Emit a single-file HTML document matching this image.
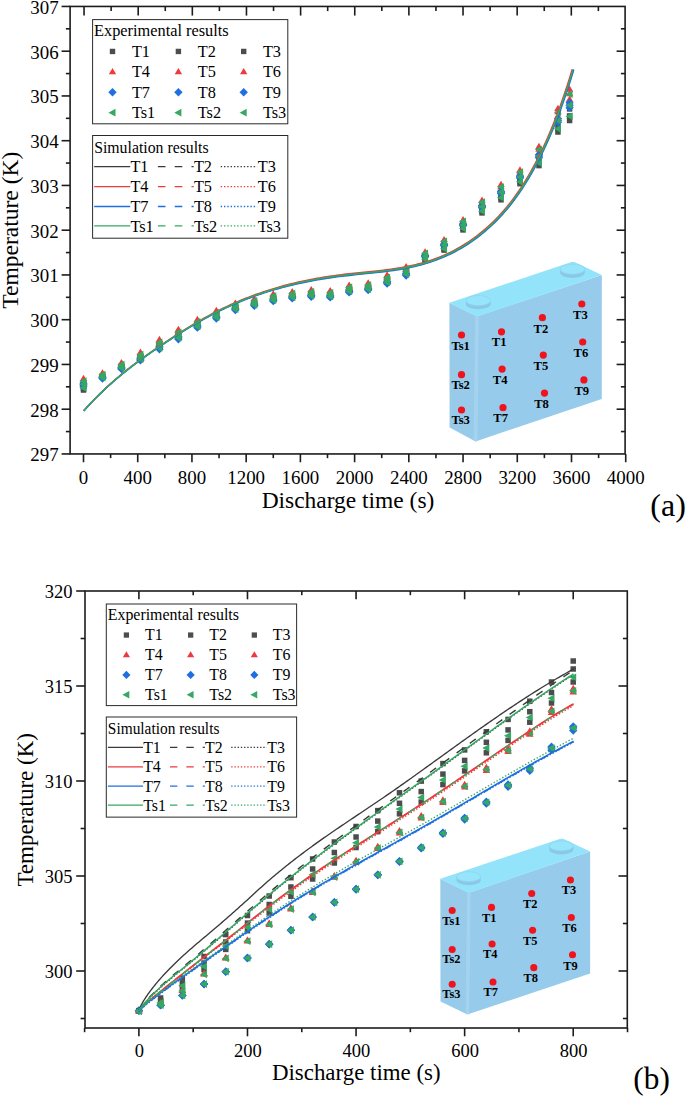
<!DOCTYPE html>
<html><head><meta charset="utf-8"><title>chart</title>
<style>html,body{margin:0;padding:0;background:#fff}svg{display:block}text{font-family:"Liberation Serif",serif}</style>
</head><body>
<svg width="685" height="1096" viewBox="0 0 685 1096">
<rect width="685" height="1096" fill="#fff"/>
<rect x="80.75" y="383.6" width="5.5" height="5.5" fill="#4d4d4d"/>
<rect x="99.73" y="372.83" width="5.5" height="5.5" fill="#4d4d4d"/>
<rect x="118.71" y="362.95" width="5.5" height="5.5" fill="#4d4d4d"/>
<rect x="137.68" y="353.47" width="5.5" height="5.5" fill="#4d4d4d"/>
<rect x="156.66" y="341.55" width="5.5" height="5.5" fill="#4d4d4d"/>
<rect x="175.64" y="331.44" width="5.5" height="5.5" fill="#4d4d4d"/>
<rect x="194.62" y="320.71" width="5.5" height="5.5" fill="#4d4d4d"/>
<rect x="213.59" y="311.67" width="5.5" height="5.5" fill="#4d4d4d"/>
<rect x="232.57" y="303.83" width="5.5" height="5.5" fill="#4d4d4d"/>
<rect x="251.55" y="299.48" width="5.5" height="5.5" fill="#4d4d4d"/>
<rect x="270.53" y="294.71" width="5.5" height="5.5" fill="#4d4d4d"/>
<rect x="289.5" y="292.14" width="5.5" height="5.5" fill="#4d4d4d"/>
<rect x="308.48" y="290.37" width="5.5" height="5.5" fill="#4d4d4d"/>
<rect x="327.46" y="291.24" width="5.5" height="5.5" fill="#4d4d4d"/>
<rect x="346.44" y="285.96" width="5.5" height="5.5" fill="#4d4d4d"/>
<rect x="365.42" y="283.67" width="5.5" height="5.5" fill="#4d4d4d"/>
<rect x="384.39" y="276.44" width="5.5" height="5.5" fill="#4d4d4d"/>
<rect x="403.37" y="268.24" width="5.5" height="5.5" fill="#4d4d4d"/>
<rect x="422.35" y="254.43" width="5.5" height="5.5" fill="#4d4d4d"/>
<rect x="441.33" y="243.44" width="5.5" height="5.5" fill="#4d4d4d"/>
<rect x="460.3" y="223.35" width="5.5" height="5.5" fill="#4d4d4d"/>
<rect x="479.28" y="205.4" width="5.5" height="5.5" fill="#4d4d4d"/>
<rect x="498.26" y="191.39" width="5.5" height="5.5" fill="#4d4d4d"/>
<rect x="517.24" y="175.86" width="5.5" height="5.5" fill="#4d4d4d"/>
<rect x="536.21" y="155.74" width="5.5" height="5.5" fill="#4d4d4d"/>
<rect x="555.19" y="120.51" width="5.5" height="5.5" fill="#4d4d4d"/>
<rect x="566.85" y="106.16" width="5.5" height="5.5" fill="#4d4d4d"/>
<rect x="80.75" y="385.7" width="5.5" height="5.5" fill="#4d4d4d"/>
<rect x="99.73" y="373.63" width="5.5" height="5.5" fill="#4d4d4d"/>
<rect x="118.71" y="363.85" width="5.5" height="5.5" fill="#4d4d4d"/>
<rect x="137.68" y="354.61" width="5.5" height="5.5" fill="#4d4d4d"/>
<rect x="156.66" y="342.91" width="5.5" height="5.5" fill="#4d4d4d"/>
<rect x="175.64" y="332.83" width="5.5" height="5.5" fill="#4d4d4d"/>
<rect x="194.62" y="321.87" width="5.5" height="5.5" fill="#4d4d4d"/>
<rect x="213.59" y="312.81" width="5.5" height="5.5" fill="#4d4d4d"/>
<rect x="232.57" y="304.79" width="5.5" height="5.5" fill="#4d4d4d"/>
<rect x="251.55" y="300.45" width="5.5" height="5.5" fill="#4d4d4d"/>
<rect x="270.53" y="295.73" width="5.5" height="5.5" fill="#4d4d4d"/>
<rect x="289.5" y="293.07" width="5.5" height="5.5" fill="#4d4d4d"/>
<rect x="308.48" y="291.37" width="5.5" height="5.5" fill="#4d4d4d"/>
<rect x="327.46" y="292.17" width="5.5" height="5.5" fill="#4d4d4d"/>
<rect x="346.44" y="286.97" width="5.5" height="5.5" fill="#4d4d4d"/>
<rect x="365.42" y="284.67" width="5.5" height="5.5" fill="#4d4d4d"/>
<rect x="384.39" y="277.67" width="5.5" height="5.5" fill="#4d4d4d"/>
<rect x="403.37" y="269.47" width="5.5" height="5.5" fill="#4d4d4d"/>
<rect x="422.35" y="256.32" width="5.5" height="5.5" fill="#4d4d4d"/>
<rect x="441.33" y="245.81" width="5.5" height="5.5" fill="#4d4d4d"/>
<rect x="460.3" y="225.65" width="5.5" height="5.5" fill="#4d4d4d"/>
<rect x="479.28" y="208.28" width="5.5" height="5.5" fill="#4d4d4d"/>
<rect x="498.26" y="194.81" width="5.5" height="5.5" fill="#4d4d4d"/>
<rect x="517.24" y="178.94" width="5.5" height="5.5" fill="#4d4d4d"/>
<rect x="536.21" y="160.04" width="5.5" height="5.5" fill="#4d4d4d"/>
<rect x="555.19" y="125.8" width="5.5" height="5.5" fill="#4d4d4d"/>
<rect x="566.85" y="113.17" width="5.5" height="5.5" fill="#4d4d4d"/>
<rect x="80.75" y="387.27" width="5.5" height="5.5" fill="#4d4d4d"/>
<rect x="99.73" y="374.27" width="5.5" height="5.5" fill="#4d4d4d"/>
<rect x="118.71" y="364.57" width="5.5" height="5.5" fill="#4d4d4d"/>
<rect x="137.68" y="355.52" width="5.5" height="5.5" fill="#4d4d4d"/>
<rect x="156.66" y="344" width="5.5" height="5.5" fill="#4d4d4d"/>
<rect x="175.64" y="333.95" width="5.5" height="5.5" fill="#4d4d4d"/>
<rect x="194.62" y="322.79" width="5.5" height="5.5" fill="#4d4d4d"/>
<rect x="213.59" y="313.72" width="5.5" height="5.5" fill="#4d4d4d"/>
<rect x="232.57" y="305.56" width="5.5" height="5.5" fill="#4d4d4d"/>
<rect x="251.55" y="301.23" width="5.5" height="5.5" fill="#4d4d4d"/>
<rect x="270.53" y="296.55" width="5.5" height="5.5" fill="#4d4d4d"/>
<rect x="289.5" y="293.81" width="5.5" height="5.5" fill="#4d4d4d"/>
<rect x="308.48" y="292.17" width="5.5" height="5.5" fill="#4d4d4d"/>
<rect x="327.46" y="292.91" width="5.5" height="5.5" fill="#4d4d4d"/>
<rect x="346.44" y="287.77" width="5.5" height="5.5" fill="#4d4d4d"/>
<rect x="365.42" y="285.47" width="5.5" height="5.5" fill="#4d4d4d"/>
<rect x="384.39" y="278.65" width="5.5" height="5.5" fill="#4d4d4d"/>
<rect x="403.37" y="270.45" width="5.5" height="5.5" fill="#4d4d4d"/>
<rect x="422.35" y="257.55" width="5.5" height="5.5" fill="#4d4d4d"/>
<rect x="441.33" y="247.35" width="5.5" height="5.5" fill="#4d4d4d"/>
<rect x="460.3" y="227.15" width="5.5" height="5.5" fill="#4d4d4d"/>
<rect x="479.28" y="210.15" width="5.5" height="5.5" fill="#4d4d4d"/>
<rect x="498.26" y="197.05" width="5.5" height="5.5" fill="#4d4d4d"/>
<rect x="517.24" y="180.95" width="5.5" height="5.5" fill="#4d4d4d"/>
<rect x="536.21" y="162.85" width="5.5" height="5.5" fill="#4d4d4d"/>
<rect x="555.19" y="129.25" width="5.5" height="5.5" fill="#4d4d4d"/>
<rect x="566.85" y="117.75" width="5.5" height="5.5" fill="#4d4d4d"/>
<path d="M83.5,374.87 L87.2,381.09 L79.8,381.09Z" fill="#ee3a3c"/>
<path d="M102.48,369.17 L106.18,375.39 L98.78,375.39Z" fill="#ee3a3c"/>
<path d="M121.46,358.91 L125.16,365.13 L117.76,365.13Z" fill="#ee3a3c"/>
<path d="M140.43,348.59 L144.13,354.8 L136.73,354.8Z" fill="#ee3a3c"/>
<path d="M159.41,335.87 L163.11,342.08 L155.71,342.08Z" fill="#ee3a3c"/>
<path d="M178.39,325.65 L182.09,331.87 L174.69,331.87Z" fill="#ee3a3c"/>
<path d="M197.37,315.78 L201.07,321.99 L193.67,321.99Z" fill="#ee3a3c"/>
<path d="M216.34,306.79 L220.04,313 L212.64,313Z" fill="#ee3a3c"/>
<path d="M235.32,299.58 L239.02,305.8 L231.62,305.8Z" fill="#ee3a3c"/>
<path d="M254.3,295.17 L258,301.39 L250.6,301.39Z" fill="#ee3a3c"/>
<path d="M273.28,290.25 L276.98,296.47 L269.58,296.47Z" fill="#ee3a3c"/>
<path d="M292.25,288 L295.95,294.21 L288.55,294.21Z" fill="#ee3a3c"/>
<path d="M311.23,285.96 L314.93,292.17 L307.53,292.17Z" fill="#ee3a3c"/>
<path d="M330.21,287.1 L333.91,293.31 L326.51,293.31Z" fill="#ee3a3c"/>
<path d="M349.19,281.56 L352.89,287.77 L345.49,287.77Z" fill="#ee3a3c"/>
<path d="M368.17,279.26 L371.87,285.47 L364.47,285.47Z" fill="#ee3a3c"/>
<path d="M387.14,271.24 L390.84,277.45 L383.44,277.45Z" fill="#ee3a3c"/>
<path d="M406.12,263.04 L409.82,269.25 L402.42,269.25Z" fill="#ee3a3c"/>
<path d="M425.1,248.25 L428.8,254.46 L421.4,254.46Z" fill="#ee3a3c"/>
<path d="M444.08,235.89 L447.78,242.1 L440.38,242.1Z" fill="#ee3a3c"/>
<path d="M463.05,215.99 L466.75,222.21 L459.35,222.21Z" fill="#ee3a3c"/>
<path d="M482.03,196.42 L485.73,202.64 L478.33,202.64Z" fill="#ee3a3c"/>
<path d="M501.01,180.85 L504.71,187.06 L497.31,187.06Z" fill="#ee3a3c"/>
<path d="M519.99,166.29 L523.69,172.51 L516.29,172.51Z" fill="#ee3a3c"/>
<path d="M538.96,142.73 L542.66,148.95 L535.26,148.95Z" fill="#ee3a3c"/>
<path d="M557.94,104.7 L561.64,110.92 L554.24,110.92Z" fill="#ee3a3c"/>
<path d="M569.6,85.48 L573.3,91.7 L565.9,91.7Z" fill="#ee3a3c"/>
<path d="M83.5,376.44 L87.2,382.66 L79.8,382.66Z" fill="#ee3a3c"/>
<path d="M102.48,370.02 L106.18,376.23 L98.78,376.23Z" fill="#ee3a3c"/>
<path d="M121.46,359.87 L125.16,366.09 L117.76,366.09Z" fill="#ee3a3c"/>
<path d="M140.43,349.8 L144.13,356.02 L136.73,356.02Z" fill="#ee3a3c"/>
<path d="M159.41,337.32 L163.11,343.54 L155.71,343.54Z" fill="#ee3a3c"/>
<path d="M178.39,327.14 L182.09,333.35 L174.69,333.35Z" fill="#ee3a3c"/>
<path d="M197.37,317.01 L201.07,323.23 L193.67,323.23Z" fill="#ee3a3c"/>
<path d="M216.34,308 L220.04,314.22 L212.64,314.22Z" fill="#ee3a3c"/>
<path d="M235.32,300.61 L239.02,306.82 L231.62,306.82Z" fill="#ee3a3c"/>
<path d="M254.3,296.21 L258,302.43 L250.6,302.43Z" fill="#ee3a3c"/>
<path d="M273.28,291.34 L276.98,297.55 L269.58,297.55Z" fill="#ee3a3c"/>
<path d="M292.25,288.99 L295.95,295.21 L288.55,295.21Z" fill="#ee3a3c"/>
<path d="M311.23,287.03 L314.93,293.25 L307.53,293.25Z" fill="#ee3a3c"/>
<path d="M330.21,288.09 L333.91,294.31 L326.51,294.31Z" fill="#ee3a3c"/>
<path d="M349.19,282.63 L352.89,288.85 L345.49,288.85Z" fill="#ee3a3c"/>
<path d="M368.17,280.33 L371.87,286.55 L364.47,286.55Z" fill="#ee3a3c"/>
<path d="M387.14,272.55 L390.84,278.77 L383.44,278.77Z" fill="#ee3a3c"/>
<path d="M406.12,264.35 L409.82,270.57 L402.42,270.57Z" fill="#ee3a3c"/>
<path d="M425.1,249.48 L428.8,255.69 L421.4,255.69Z" fill="#ee3a3c"/>
<path d="M444.08,237.43 L447.78,243.65 L440.38,243.65Z" fill="#ee3a3c"/>
<path d="M463.05,217.49 L466.75,223.71 L459.35,223.71Z" fill="#ee3a3c"/>
<path d="M482.03,198.29 L485.73,204.51 L478.33,204.51Z" fill="#ee3a3c"/>
<path d="M501.01,183.08 L504.71,189.3 L497.31,189.3Z" fill="#ee3a3c"/>
<path d="M519.99,168.3 L523.69,174.52 L516.29,174.52Z" fill="#ee3a3c"/>
<path d="M538.96,145.54 L542.66,151.75 L535.26,151.75Z" fill="#ee3a3c"/>
<path d="M557.94,108.15 L561.64,114.37 L554.24,114.37Z" fill="#ee3a3c"/>
<path d="M569.6,90.05 L573.3,96.27 L565.9,96.27Z" fill="#ee3a3c"/>
<path d="M83.5,378.54 L87.2,384.76 L79.8,384.76Z" fill="#ee3a3c"/>
<path d="M102.48,370.76 L106.18,376.98 L98.78,376.98Z" fill="#ee3a3c"/>
<path d="M121.46,360.71 L125.16,366.93 L117.76,366.93Z" fill="#ee3a3c"/>
<path d="M140.43,350.87 L144.13,357.08 L136.73,357.08Z" fill="#ee3a3c"/>
<path d="M159.41,338.6 L163.11,344.81 L155.71,344.81Z" fill="#ee3a3c"/>
<path d="M178.39,328.44 L182.09,334.66 L174.69,334.66Z" fill="#ee3a3c"/>
<path d="M197.37,318.09 L201.07,324.3 L193.67,324.3Z" fill="#ee3a3c"/>
<path d="M216.34,309.07 L220.04,315.28 L212.64,315.28Z" fill="#ee3a3c"/>
<path d="M235.32,301.5 L239.02,307.72 L231.62,307.72Z" fill="#ee3a3c"/>
<path d="M254.3,297.12 L258,303.34 L250.6,303.34Z" fill="#ee3a3c"/>
<path d="M273.28,292.29 L276.98,298.51 L269.58,298.51Z" fill="#ee3a3c"/>
<path d="M292.25,289.86 L295.95,296.07 L288.55,296.07Z" fill="#ee3a3c"/>
<path d="M311.23,287.97 L314.93,294.18 L307.53,294.18Z" fill="#ee3a3c"/>
<path d="M330.21,288.96 L333.91,295.17 L326.51,295.17Z" fill="#ee3a3c"/>
<path d="M349.19,283.57 L352.89,289.78 L345.49,289.78Z" fill="#ee3a3c"/>
<path d="M368.17,281.27 L371.87,287.48 L364.47,287.48Z" fill="#ee3a3c"/>
<path d="M387.14,273.7 L390.84,279.91 L383.44,279.91Z" fill="#ee3a3c"/>
<path d="M406.12,265.5 L409.82,271.71 L402.42,271.71Z" fill="#ee3a3c"/>
<path d="M425.1,250.95 L428.8,257.17 L421.4,257.17Z" fill="#ee3a3c"/>
<path d="M444.08,239.28 L447.78,245.5 L440.38,245.5Z" fill="#ee3a3c"/>
<path d="M463.05,219.29 L466.75,225.51 L459.35,225.51Z" fill="#ee3a3c"/>
<path d="M482.03,200.54 L485.73,206.76 L478.33,206.76Z" fill="#ee3a3c"/>
<path d="M501.01,185.76 L504.71,191.98 L497.31,191.98Z" fill="#ee3a3c"/>
<path d="M519.99,170.71 L523.69,176.93 L516.29,176.93Z" fill="#ee3a3c"/>
<path d="M538.96,148.9 L542.66,155.12 L535.26,155.12Z" fill="#ee3a3c"/>
<path d="M557.94,112.29 L561.64,118.51 L554.24,118.51Z" fill="#ee3a3c"/>
<path d="M569.6,95.54 L573.3,101.76 L565.9,101.76Z" fill="#ee3a3c"/>
<path d="M83.5,379.05 L87.65,383.2 L83.5,387.35 L79.35,383.2Z" fill="#1f6fe0"/>
<path d="M102.48,372.87 L106.63,377.02 L102.48,381.17 L98.33,377.02Z" fill="#1f6fe0"/>
<path d="M121.46,363.17 L125.61,367.32 L121.46,371.47 L117.31,367.32Z" fill="#1f6fe0"/>
<path d="M140.43,354.12 L144.58,358.27 L140.43,362.42 L136.28,358.27Z" fill="#1f6fe0"/>
<path d="M159.41,342.6 L163.56,346.75 L159.41,350.9 L155.26,346.75Z" fill="#1f6fe0"/>
<path d="M178.39,332.55 L182.54,336.7 L178.39,340.85 L174.24,336.7Z" fill="#1f6fe0"/>
<path d="M197.37,321.39 L201.52,325.54 L197.37,329.69 L193.22,325.54Z" fill="#1f6fe0"/>
<path d="M216.34,312.32 L220.49,316.47 L216.34,320.62 L212.19,316.47Z" fill="#1f6fe0"/>
<path d="M235.32,304.16 L239.47,308.31 L235.32,312.46 L231.17,308.31Z" fill="#1f6fe0"/>
<path d="M254.3,299.83 L258.45,303.98 L254.3,308.13 L250.15,303.98Z" fill="#1f6fe0"/>
<path d="M273.28,295.15 L277.43,299.3 L273.28,303.45 L269.13,299.3Z" fill="#1f6fe0"/>
<path d="M292.25,292.41 L296.4,296.56 L292.25,300.71 L288.1,296.56Z" fill="#1f6fe0"/>
<path d="M311.23,290.77 L315.38,294.92 L311.23,299.07 L307.08,294.92Z" fill="#1f6fe0"/>
<path d="M330.21,291.51 L334.36,295.66 L330.21,299.81 L326.06,295.66Z" fill="#1f6fe0"/>
<path d="M349.19,286.37 L353.34,290.52 L349.19,294.67 L345.04,290.52Z" fill="#1f6fe0"/>
<path d="M368.17,284.07 L372.32,288.22 L368.17,292.37 L364.02,288.22Z" fill="#1f6fe0"/>
<path d="M387.14,277.25 L391.29,281.4 L387.14,285.55 L382.99,281.4Z" fill="#1f6fe0"/>
<path d="M406.12,269.05 L410.27,273.2 L406.12,277.35 L401.97,273.2Z" fill="#1f6fe0"/>
<path d="M425.1,251.39 L429.25,255.54 L425.1,259.69 L420.95,255.54Z" fill="#1f6fe0"/>
<path d="M444.08,239.98 L448.23,244.13 L444.08,248.28 L439.93,244.13Z" fill="#1f6fe0"/>
<path d="M463.05,219.95 L467.2,224.1 L463.05,228.25 L458.9,224.1Z" fill="#1f6fe0"/>
<path d="M482.03,201.5 L486.18,205.65 L482.03,209.8 L477.88,205.65Z" fill="#1f6fe0"/>
<path d="M501.01,187.01 L505.16,191.16 L501.01,195.31 L496.86,191.16Z" fill="#1f6fe0"/>
<path d="M519.99,171.78 L524.14,175.93 L519.99,180.08 L515.84,175.93Z" fill="#1f6fe0"/>
<path d="M538.96,150.6 L543.11,154.75 L538.96,158.9 L534.81,154.75Z" fill="#1f6fe0"/>
<path d="M557.94,114.51 L562.09,118.66 L557.94,122.81 L553.79,118.66Z" fill="#1f6fe0"/>
<path d="M569.6,98.66 L573.75,102.81 L569.6,106.96 L565.45,102.81Z" fill="#1f6fe0"/>
<path d="M83.5,380.62 L87.65,384.77 L83.5,388.92 L79.35,384.77Z" fill="#1f6fe0"/>
<path d="M102.48,373.61 L106.63,377.76 L102.48,381.91 L98.33,377.76Z" fill="#1f6fe0"/>
<path d="M121.46,364.01 L125.61,368.16 L121.46,372.31 L117.31,368.16Z" fill="#1f6fe0"/>
<path d="M140.43,355.19 L144.58,359.34 L140.43,363.49 L136.28,359.34Z" fill="#1f6fe0"/>
<path d="M159.41,343.88 L163.56,348.03 L159.41,352.18 L155.26,348.03Z" fill="#1f6fe0"/>
<path d="M178.39,333.85 L182.54,338 L178.39,342.15 L174.24,338Z" fill="#1f6fe0"/>
<path d="M197.37,322.47 L201.52,326.62 L197.37,330.77 L193.22,326.62Z" fill="#1f6fe0"/>
<path d="M216.34,313.39 L220.49,317.54 L216.34,321.69 L212.19,317.54Z" fill="#1f6fe0"/>
<path d="M235.32,305.05 L239.47,309.2 L235.32,313.35 L231.17,309.2Z" fill="#1f6fe0"/>
<path d="M254.3,300.74 L258.45,304.89 L254.3,309.04 L250.15,304.89Z" fill="#1f6fe0"/>
<path d="M273.28,296.1 L277.43,300.25 L273.28,304.4 L269.13,300.25Z" fill="#1f6fe0"/>
<path d="M292.25,293.28 L296.4,297.43 L292.25,301.58 L288.1,297.43Z" fill="#1f6fe0"/>
<path d="M311.23,291.71 L315.38,295.86 L311.23,300.01 L307.08,295.86Z" fill="#1f6fe0"/>
<path d="M330.21,292.38 L334.36,296.53 L330.21,300.68 L326.06,296.53Z" fill="#1f6fe0"/>
<path d="M349.19,287.31 L353.34,291.46 L349.19,295.61 L345.04,291.46Z" fill="#1f6fe0"/>
<path d="M368.17,285.01 L372.32,289.16 L368.17,293.31 L364.02,289.16Z" fill="#1f6fe0"/>
<path d="M387.14,278.4 L391.29,282.55 L387.14,286.7 L382.99,282.55Z" fill="#1f6fe0"/>
<path d="M406.12,270.2 L410.27,274.35 L406.12,278.5 L401.97,274.35Z" fill="#1f6fe0"/>
<path d="M425.1,252.05 L429.25,256.2 L425.1,260.35 L420.95,256.2Z" fill="#1f6fe0"/>
<path d="M444.08,240.8 L448.23,244.95 L444.08,249.1 L439.93,244.95Z" fill="#1f6fe0"/>
<path d="M463.05,220.75 L467.2,224.9 L463.05,229.05 L458.9,224.9Z" fill="#1f6fe0"/>
<path d="M482.03,202.5 L486.18,206.65 L482.03,210.8 L477.88,206.65Z" fill="#1f6fe0"/>
<path d="M501.01,188.2 L505.16,192.35 L501.01,196.5 L496.86,192.35Z" fill="#1f6fe0"/>
<path d="M519.99,172.85 L524.14,177 L519.99,181.15 L515.84,177Z" fill="#1f6fe0"/>
<path d="M538.96,152.1 L543.11,156.25 L538.96,160.4 L534.81,156.25Z" fill="#1f6fe0"/>
<path d="M557.94,116.35 L562.09,120.5 L557.94,124.65 L553.79,120.5Z" fill="#1f6fe0"/>
<path d="M569.6,101.1 L573.75,105.25 L569.6,109.4 L565.45,105.25Z" fill="#1f6fe0"/>
<path d="M83.5,382.2 L87.65,386.35 L83.5,390.5 L79.35,386.35Z" fill="#1f6fe0"/>
<path d="M102.48,374.35 L106.63,378.5 L102.48,382.65 L98.33,378.5Z" fill="#1f6fe0"/>
<path d="M121.46,364.85 L125.61,369 L121.46,373.15 L117.31,369Z" fill="#1f6fe0"/>
<path d="M140.43,356.25 L144.58,360.4 L140.43,364.55 L136.28,360.4Z" fill="#1f6fe0"/>
<path d="M159.41,345.15 L163.56,349.3 L159.41,353.45 L155.26,349.3Z" fill="#1f6fe0"/>
<path d="M178.39,335.15 L182.54,339.3 L178.39,343.45 L174.24,339.3Z" fill="#1f6fe0"/>
<path d="M197.37,323.55 L201.52,327.7 L197.37,331.85 L193.22,327.7Z" fill="#1f6fe0"/>
<path d="M216.34,314.45 L220.49,318.6 L216.34,322.75 L212.19,318.6Z" fill="#1f6fe0"/>
<path d="M235.32,305.95 L239.47,310.1 L235.32,314.25 L231.17,310.1Z" fill="#1f6fe0"/>
<path d="M254.3,301.65 L258.45,305.8 L254.3,309.95 L250.15,305.8Z" fill="#1f6fe0"/>
<path d="M273.28,297.05 L277.43,301.2 L273.28,305.35 L269.13,301.2Z" fill="#1f6fe0"/>
<path d="M292.25,294.15 L296.4,298.3 L292.25,302.45 L288.1,298.3Z" fill="#1f6fe0"/>
<path d="M311.23,292.65 L315.38,296.8 L311.23,300.95 L307.08,296.8Z" fill="#1f6fe0"/>
<path d="M330.21,293.25 L334.36,297.4 L330.21,301.55 L326.06,297.4Z" fill="#1f6fe0"/>
<path d="M349.19,288.25 L353.34,292.4 L349.19,296.55 L345.04,292.4Z" fill="#1f6fe0"/>
<path d="M368.17,285.95 L372.32,290.1 L368.17,294.25 L364.02,290.1Z" fill="#1f6fe0"/>
<path d="M387.14,279.55 L391.29,283.7 L387.14,287.85 L382.99,283.7Z" fill="#1f6fe0"/>
<path d="M406.12,271.35 L410.27,275.5 L406.12,279.65 L401.97,275.5Z" fill="#1f6fe0"/>
<path d="M425.1,252.71 L429.25,256.86 L425.1,261.01 L420.95,256.86Z" fill="#1f6fe0"/>
<path d="M444.08,241.62 L448.23,245.77 L444.08,249.92 L439.93,245.77Z" fill="#1f6fe0"/>
<path d="M463.05,221.55 L467.2,225.7 L463.05,229.85 L458.9,225.7Z" fill="#1f6fe0"/>
<path d="M482.03,203.5 L486.18,207.65 L482.03,211.8 L477.88,207.65Z" fill="#1f6fe0"/>
<path d="M501.01,189.39 L505.16,193.54 L501.01,197.69 L496.86,193.54Z" fill="#1f6fe0"/>
<path d="M519.99,173.92 L524.14,178.07 L519.99,182.22 L515.84,178.07Z" fill="#1f6fe0"/>
<path d="M538.96,153.6 L543.11,157.75 L538.96,161.9 L534.81,157.75Z" fill="#1f6fe0"/>
<path d="M557.94,118.19 L562.09,122.34 L557.94,126.49 L553.79,122.34Z" fill="#1f6fe0"/>
<path d="M569.6,103.54 L573.75,107.69 L569.6,111.84 L565.45,107.69Z" fill="#1f6fe0"/>
<path d="M79.39,381.1 L86.48,377.25 L86.48,384.95Z" fill="#35a862"/>
<path d="M98.37,374.52 L105.45,370.67 L105.45,378.38Z" fill="#35a862"/>
<path d="M117.35,364.5 L124.43,360.65 L124.43,368.35Z" fill="#35a862"/>
<path d="M136.32,354.7 L143.41,350.85 L143.41,358.55Z" fill="#35a862"/>
<path d="M155.3,342.48 L162.39,338.62 L162.39,346.33Z" fill="#35a862"/>
<path d="M174.28,332.32 L181.36,328.47 L181.36,336.18Z" fill="#35a862"/>
<path d="M193.26,321.93 L200.34,318.07 L200.34,325.78Z" fill="#35a862"/>
<path d="M212.24,312.9 L219.32,309.05 L219.32,316.75Z" fill="#35a862"/>
<path d="M231.21,305.3 L238.3,301.45 L238.3,309.15Z" fill="#35a862"/>
<path d="M250.19,300.93 L257.27,297.07 L257.27,304.78Z" fill="#35a862"/>
<path d="M269.17,296.1 L276.25,292.25 L276.25,299.95Z" fill="#35a862"/>
<path d="M288.15,293.65 L295.23,289.8 L295.23,297.5Z" fill="#35a862"/>
<path d="M307.12,291.78 L314.21,287.93 L314.21,295.63Z" fill="#35a862"/>
<path d="M326.1,292.75 L333.19,288.9 L333.19,296.6Z" fill="#35a862"/>
<path d="M345.08,287.38 L352.16,283.52 L352.16,291.23Z" fill="#35a862"/>
<path d="M364.06,285.07 L371.14,281.22 L371.14,288.93Z" fill="#35a862"/>
<path d="M383.03,277.55 L390.12,273.7 L390.12,281.4Z" fill="#35a862"/>
<path d="M402.01,269.35 L409.1,265.5 L409.1,273.2Z" fill="#35a862"/>
<path d="M420.99,253.25 L428.07,249.4 L428.07,257.1Z" fill="#35a862"/>
<path d="M439.97,241.24 L447.05,237.39 L447.05,245.09Z" fill="#35a862"/>
<path d="M458.95,221.3 L466.03,217.45 L466.03,225.15Z" fill="#35a862"/>
<path d="M477.92,202.15 L485.01,198.3 L485.01,206Z" fill="#35a862"/>
<path d="M496.9,186.99 L503.98,183.14 L503.98,190.84Z" fill="#35a862"/>
<path d="M515.88,172.18 L522.96,168.33 L522.96,176.03Z" fill="#35a862"/>
<path d="M534.86,149.52 L541.94,145.67 L541.94,153.37Z" fill="#35a862"/>
<path d="M553.83,112.22 L560.92,108.37 L560.92,116.07Z" fill="#35a862"/>
<path d="M565.49,94.27 L572.58,90.42 L572.58,98.12Z" fill="#35a862"/>
<path d="M79.39,384.25 L86.48,380.4 L86.48,388.1Z" fill="#35a862"/>
<path d="M98.37,376.12 L105.45,372.26 L105.45,379.97Z" fill="#35a862"/>
<path d="M117.35,366.3 L124.43,362.45 L124.43,370.15Z" fill="#35a862"/>
<path d="M136.32,356.98 L143.41,353.13 L143.41,360.83Z" fill="#35a862"/>
<path d="M155.3,345.2 L162.39,341.35 L162.39,349.06Z" fill="#35a862"/>
<path d="M174.28,335.12 L181.36,331.26 L181.36,338.97Z" fill="#35a862"/>
<path d="M193.26,324.24 L200.34,320.38 L200.34,328.09Z" fill="#35a862"/>
<path d="M212.24,315.18 L219.32,311.33 L219.32,319.03Z" fill="#35a862"/>
<path d="M231.21,307.22 L238.3,303.37 L238.3,311.07Z" fill="#35a862"/>
<path d="M250.19,302.88 L257.27,299.02 L257.27,306.73Z" fill="#35a862"/>
<path d="M269.17,298.14 L276.25,294.29 L276.25,301.99Z" fill="#35a862"/>
<path d="M288.15,295.51 L295.23,291.66 L295.23,299.36Z" fill="#35a862"/>
<path d="M307.12,293.79 L314.21,289.94 L314.21,297.64Z" fill="#35a862"/>
<path d="M326.1,294.61 L333.19,290.76 L333.19,298.46Z" fill="#35a862"/>
<path d="M345.08,289.38 L352.16,285.53 L352.16,293.24Z" fill="#35a862"/>
<path d="M364.06,287.08 L371.14,283.23 L371.14,290.94Z" fill="#35a862"/>
<path d="M383.03,280.01 L390.12,276.16 L390.12,283.86Z" fill="#35a862"/>
<path d="M402.01,271.81 L409.1,267.96 L409.1,275.66Z" fill="#35a862"/>
<path d="M420.99,256.2 L428.07,252.35 L428.07,260.05Z" fill="#35a862"/>
<path d="M439.97,244.95 L447.05,241.1 L447.05,248.8Z" fill="#35a862"/>
<path d="M458.95,224.9 L466.03,221.05 L466.03,228.75Z" fill="#35a862"/>
<path d="M477.92,206.65 L485.01,202.8 L485.01,210.5Z" fill="#35a862"/>
<path d="M496.9,192.35 L503.98,188.5 L503.98,196.2Z" fill="#35a862"/>
<path d="M515.88,177 L522.96,173.15 L522.96,180.85Z" fill="#35a862"/>
<path d="M534.86,156.25 L541.94,152.4 L541.94,160.1Z" fill="#35a862"/>
<path d="M553.83,120.5 L560.92,116.65 L560.92,124.35Z" fill="#35a862"/>
<path d="M565.49,105.25 L572.58,101.4 L572.58,109.1Z" fill="#35a862"/>
<path d="M79.39,387.93 L86.48,384.07 L86.48,391.78Z" fill="#35a862"/>
<path d="M98.37,377.7 L105.45,373.85 L105.45,381.56Z" fill="#35a862"/>
<path d="M117.35,368.1 L124.43,364.25 L124.43,371.95Z" fill="#35a862"/>
<path d="M136.32,359.26 L143.41,355.41 L143.41,363.11Z" fill="#35a862"/>
<path d="M155.3,347.94 L162.39,344.08 L162.39,351.79Z" fill="#35a862"/>
<path d="M174.28,337.91 L181.36,334.06 L181.36,341.76Z" fill="#35a862"/>
<path d="M193.26,326.55 L200.34,322.69 L200.34,330.4Z" fill="#35a862"/>
<path d="M212.24,317.46 L219.32,313.61 L219.32,321.31Z" fill="#35a862"/>
<path d="M231.21,309.14 L238.3,305.29 L238.3,312.99Z" fill="#35a862"/>
<path d="M250.19,304.82 L257.27,300.97 L257.27,308.68Z" fill="#35a862"/>
<path d="M269.17,300.18 L276.25,296.33 L276.25,304.03Z" fill="#35a862"/>
<path d="M288.15,297.37 L295.23,293.52 L295.23,301.22Z" fill="#35a862"/>
<path d="M307.12,295.8 L314.21,291.94 L314.21,299.65Z" fill="#35a862"/>
<path d="M326.1,296.47 L333.19,292.62 L333.19,300.32Z" fill="#35a862"/>
<path d="M345.08,291.39 L352.16,287.54 L352.16,295.25Z" fill="#35a862"/>
<path d="M364.06,289.1 L371.14,285.25 L371.14,292.95Z" fill="#35a862"/>
<path d="M383.03,282.47 L390.12,278.62 L390.12,286.32Z" fill="#35a862"/>
<path d="M402.01,274.27 L409.1,270.42 L409.1,278.12Z" fill="#35a862"/>
<path d="M420.99,259.15 L428.07,255.3 L428.07,263Z" fill="#35a862"/>
<path d="M439.97,248.66 L447.05,244.81 L447.05,252.51Z" fill="#35a862"/>
<path d="M458.95,228.5 L466.03,224.65 L466.03,232.35Z" fill="#35a862"/>
<path d="M477.92,211.15 L485.01,207.3 L485.01,215Z" fill="#35a862"/>
<path d="M496.9,197.71 L503.98,193.86 L503.98,201.56Z" fill="#35a862"/>
<path d="M515.88,181.82 L522.96,177.97 L522.96,185.67Z" fill="#35a862"/>
<path d="M534.86,162.98 L541.94,159.13 L541.94,166.83Z" fill="#35a862"/>
<path d="M553.83,128.78 L560.92,124.93 L560.92,132.63Z" fill="#35a862"/>
<path d="M565.49,116.23 L572.58,112.38 L572.58,120.08Z" fill="#35a862"/>
<path d="M83.73,410.89 L86.19,408.16 L88.65,405.48 L91.11,402.86 L93.57,400.3 L96.03,397.79 L98.49,395.33 L100.95,392.93 L103.41,390.57 L105.87,388.26 L108.32,386 L110.78,383.78 L113.24,381.61 L115.7,379.47 L118.16,377.38 L120.62,375.32 L123.08,373.3 L125.54,371.32 L128,369.37 L130.46,367.45 L132.92,365.55 L135.38,363.69 L137.84,361.86 L140.3,360.04 L142.76,358.26 L145.22,356.49 L147.68,354.74 L150.14,353.02 L152.6,351.31 L155.06,349.61 L157.52,347.93 L159.98,346.26 L162.44,344.6 L164.9,342.95 L167.36,341.32 L169.82,339.69 L172.28,338.08 L174.74,336.49 L177.2,334.91 L179.66,333.35 L182.12,331.8 L184.58,330.27 L187.04,328.75 L189.5,327.26 L191.96,325.78 L194.41,324.32 L196.87,322.88 L199.33,321.47 L201.79,320.07 L204.25,318.7 L206.71,317.34 L209.17,316.01 L211.63,314.71 L214.09,313.43 L216.55,312.17 L219.01,310.94 L221.47,309.73 L223.93,308.55 L226.39,307.39 L228.84,306.26 L231.3,305.15 L233.76,304.07 L236.22,303 L238.68,301.97 L241.14,300.95 L243.6,299.96 L246.06,298.99 L248.51,298.04 L250.97,297.11 L253.43,296.21 L255.89,295.33 L258.35,294.46 L260.81,293.62 L263.27,292.8 L265.72,292 L268.18,291.22 L270.64,290.46 L273.1,289.72 L275.56,289 L278.01,288.29 L280.47,287.61 L282.93,286.94 L285.39,286.3 L287.85,285.67 L290.31,285.05 L292.76,284.46 L295.22,283.88 L297.68,283.32 L300.14,282.78 L302.59,282.25 L305.05,281.74 L307.51,281.24 L309.97,280.75 L312.42,280.28 L314.88,279.83 L317.34,279.39 L319.79,278.96 L322.25,278.55 L324.71,278.16 L327.17,277.77 L329.62,277.4 L332.08,277.05 L334.54,276.7 L337,276.37 L339.45,276.06 L341.91,275.75 L344.37,275.45 L346.82,275.17 L349.28,274.9 L351.74,274.63 L354.2,274.37 L356.66,274.12 L359.12,273.87 L361.57,273.62 L364.03,273.37 L366.49,273.12 L368.95,272.87 L371.41,272.62 L373.87,272.36 L376.33,272.09 L378.79,271.82 L381.25,271.53 L383.71,271.24 L386.17,270.93 L388.63,270.61 L391.09,270.27 L393.55,269.91 L396.01,269.54 L398.47,269.15 L400.94,268.73 L403.4,268.29 L405.86,267.83 L408.32,267.34 L410.78,266.82 L413.25,266.27 L415.71,265.69 L418.17,265.08 L420.63,264.44 L423.1,263.76 L425.56,263.04 L428.02,262.29 L430.48,261.5 L432.95,260.66 L435.41,259.79 L437.87,258.87 L440.34,257.9 L442.8,256.89 L445.26,255.82 L447.73,254.71 L450.19,253.55 L452.65,252.33 L455.12,251.06 L457.58,249.73 L460.04,248.34 L462.51,246.9 L464.97,245.4 L467.44,243.83 L469.9,242.2 L472.36,240.5 L474.82,238.74 L477.29,236.91 L479.75,235.01 L482.21,233.04 L484.68,231 L487.14,228.88 L489.6,226.68 L492.07,224.4 L494.53,222.02 L496.99,219.55 L499.45,216.99 L501.92,214.32 L504.38,211.54 L506.84,208.65 L509.31,205.64 L511.77,202.51 L514.23,199.26 L516.69,195.87 L519.15,192.35 L521.62,188.69 L524.08,184.89 L526.54,180.94 L529,176.84 L531.46,172.58 L533.92,168.16 L536.38,163.57 L538.84,158.81 L541.31,153.88 L543.77,148.76 L546.23,143.45 L548.69,137.94 L551.15,132.22 L553.61,126.28 L556.07,120.11 L558.53,113.69 L560.99,107.03 L563.45,100.11 L565.91,92.92 L568.37,85.45 L570.83,77.7 L573.29,69.65" fill="none" stroke="#3a3a3a" stroke-width="1.3"  stroke-linejoin="round" />
<path d="M83.61,410.78 L86.06,408.04 L88.52,405.36 L90.98,402.74 L93.44,400.17 L95.9,397.66 L98.35,395.2 L100.81,392.79 L103.27,390.43 L105.73,388.11 L108.18,385.85 L110.64,383.62 L113.1,381.44 L115.56,379.3 L118.01,377.2 L120.47,375.14 L122.93,373.11 L125.38,371.12 L127.84,369.16 L130.3,367.23 L132.75,365.34 L135.21,363.47 L137.67,361.62 L140.12,359.8 L142.58,358.01 L145.03,356.23 L147.49,354.48 L149.95,352.74 L152.4,351.02 L154.86,349.32 L157.31,347.63 L159.77,345.95 L162.22,344.28 L164.68,342.63 L167.14,340.98 L169.59,339.35 L172.05,337.73 L174.5,336.13 L176.96,334.54 L179.41,332.96 L181.87,331.41 L184.33,329.86 L186.78,328.34 L189.24,326.83 L191.69,325.34 L194.15,323.87 L196.61,322.42 L199.06,320.99 L201.52,319.59 L203.98,318.2 L206.43,316.83 L208.89,315.49 L211.35,314.17 L213.81,312.88 L216.26,311.61 L218.72,310.36 L221.18,309.14 L223.64,307.95 L226.1,306.78 L228.56,305.63 L231.01,304.5 L233.47,303.41 L235.93,302.33 L238.39,301.28 L240.85,300.24 L243.31,299.24 L245.77,298.25 L248.23,297.29 L250.69,296.35 L253.15,295.43 L255.61,294.53 L258.06,293.65 L260.52,292.79 L262.98,291.95 L265.44,291.14 L267.9,290.34 L270.37,289.56 L272.83,288.81 L275.29,288.07 L277.75,287.35 L280.21,286.65 L282.67,285.96 L285.13,285.3 L287.59,284.65 L290.05,284.02 L292.51,283.41 L294.97,282.82 L297.43,282.24 L299.9,281.68 L302.36,281.13 L304.82,280.61 L307.28,280.11 L309.75,279.62 L312.21,279.15 L314.67,278.7 L317.14,278.26 L319.6,277.83 L322.07,277.42 L324.53,277.02 L326.99,276.64 L329.46,276.27 L331.92,275.91 L334.38,275.57 L336.84,275.23 L339.31,274.91 L341.77,274.61 L344.23,274.31 L346.7,274.03 L349.16,273.75 L351.62,273.49 L354.08,273.23 L356.54,272.97 L359,272.72 L361.46,272.48 L363.92,272.23 L366.38,271.98 L368.83,271.73 L371.29,271.48 L373.75,271.22 L376.2,270.95 L378.66,270.68 L381.11,270.39 L383.57,270.1 L386.02,269.79 L388.48,269.47 L390.93,269.13 L393.38,268.78 L395.84,268.4 L398.29,268.01 L400.74,267.6 L403.19,267.16 L405.64,266.7 L408.09,266.21 L410.54,265.69 L412.99,265.15 L415.44,264.57 L417.89,263.97 L420.33,263.33 L422.78,262.65 L425.23,261.94 L427.68,261.19 L430.12,260.41 L432.57,259.58 L435.02,258.71 L437.46,257.79 L439.91,256.83 L442.35,255.83 L444.8,254.77 L447.24,253.67 L449.69,252.51 L452.14,251.3 L454.58,250.04 L457.03,248.72 L459.47,247.35 L461.92,245.91 L464.36,244.42 L466.81,242.86 L469.26,241.25 L471.7,239.56 L474.15,237.81 L476.59,235.99 L479.04,234.11 L481.49,232.15 L483.93,230.12 L486.38,228.02 L488.83,225.83 L491.28,223.56 L493.72,221.2 L496.17,218.75 L498.62,216.2 L501.06,213.54 L503.51,210.78 L505.96,207.91 L508.41,204.92 L510.86,201.81 L513.31,198.57 L515.76,195.2 L518.21,191.7 L520.66,188.06 L523.11,184.27 L525.56,180.34 L528.01,176.26 L530.46,172.01 L532.91,167.61 L535.37,163.03 L537.82,158.29 L540.27,153.37 L542.73,148.27 L545.18,142.98 L547.63,137.48 L550.09,131.77 L552.54,125.85 L555,119.69 L557.45,113.29 L559.91,106.64 L562.36,99.73 L564.82,92.55 L567.27,85.1 L569.73,77.35 L572.19,69.31" fill="none" stroke="#ee3a3c" stroke-width="1.4"  stroke-linejoin="round" />
<path d="M83.79,410.95 L86.25,408.21 L88.71,405.54 L91.17,402.92 L93.63,400.36 L96.09,397.85 L98.55,395.4 L101.01,392.99 L103.47,390.64 L105.93,388.33 L108.39,386.07 L110.85,383.86 L113.31,381.69 L115.77,379.56 L118.23,377.46 L120.69,375.41 L123.16,373.39 L125.62,371.41 L128.08,369.46 L130.54,367.55 L133,365.66 L135.46,363.8 L137.92,361.97 L140.38,360.16 L142.84,358.38 L145.31,356.61 L147.77,354.87 L150.23,353.15 L152.69,351.44 L155.15,349.75 L157.61,348.07 L160.08,346.4 L162.54,344.75 L165,343.11 L167.46,341.48 L169.92,339.86 L172.39,338.25 L174.85,336.66 L177.31,335.09 L179.77,333.53 L182.23,331.99 L184.7,330.46 L187.16,328.95 L189.62,327.46 L192.08,325.99 L194.54,324.54 L197,323.1 L199.46,321.69 L201.92,320.3 L204.38,318.93 L206.85,317.59 L209.31,316.26 L211.77,314.96 L214.23,313.69 L216.69,312.44 L219.15,311.21 L221.6,310.01 L224.06,308.84 L226.52,307.69 L228.98,306.56 L231.44,305.46 L233.9,304.38 L236.36,303.33 L238.82,302.3 L241.28,301.29 L243.74,300.3 L246.19,299.34 L248.65,298.4 L251.11,297.48 L253.57,296.58 L256.03,295.71 L258.48,294.85 L260.94,294.02 L263.4,293.21 L265.86,292.41 L268.31,291.64 L270.77,290.89 L273.23,290.15 L275.69,289.44 L278.14,288.74 L280.6,288.07 L283.06,287.41 L285.51,286.77 L287.97,286.15 L290.43,285.55 L292.88,284.96 L295.34,284.39 L297.8,283.84 L300.25,283.3 L302.71,282.78 L305.16,282.27 L307.62,281.78 L310.07,281.29 L312.52,280.82 L314.98,280.37 L317.43,279.93 L319.89,279.51 L322.34,279.1 L324.8,278.7 L327.25,278.32 L329.7,277.95 L332.16,277.59 L334.61,277.25 L337.07,276.92 L339.52,276.6 L341.98,276.29 L344.43,276 L346.89,275.72 L349.34,275.44 L351.8,275.18 L354.26,274.92 L356.71,274.67 L359.17,274.42 L361.63,274.17 L364.09,273.92 L366.55,273.67 L369.01,273.42 L371.47,273.17 L373.93,272.91 L376.39,272.64 L378.85,272.37 L381.31,272.08 L383.78,271.78 L386.24,271.48 L388.7,271.15 L391.17,270.81 L393.63,270.46 L396.1,270.08 L398.56,269.69 L401.03,269.27 L403.5,268.83 L405.96,268.37 L408.43,267.87 L410.9,267.36 L413.37,266.81 L415.84,266.23 L418.31,265.62 L420.78,264.97 L423.25,264.29 L425.72,263.57 L428.19,262.82 L430.66,262.02 L433.13,261.18 L435.6,260.3 L438.07,259.38 L440.54,258.41 L443.01,257.39 L445.49,256.33 L447.96,255.21 L450.43,254.04 L452.9,252.82 L455.37,251.54 L457.85,250.21 L460.32,248.82 L462.79,247.37 L465.26,245.86 L467.73,244.29 L470.21,242.65 L472.68,240.95 L475.15,239.19 L477.62,237.35 L480.09,235.45 L482.56,233.47 L485.03,231.42 L487.5,229.3 L489.97,227.09 L492.44,224.8 L494.91,222.41 L497.39,219.94 L499.86,217.36 L502.33,214.68 L504.8,211.9 L507.27,209 L509.73,205.98 L512.2,202.85 L514.67,199.58 L517.14,196.19 L519.61,192.66 L522.07,189 L524.54,185.19 L527.01,181.23 L529.47,177.12 L531.94,172.85 L534.41,168.42 L536.87,163.83 L539.33,159.06 L541.8,154.12 L544.26,149 L546.73,143.68 L549.19,138.16 L551.65,132.44 L554.12,126.49 L556.58,120.31 L559.04,113.89 L561.51,107.22 L563.97,100.29 L566.43,93.09 L568.89,85.62 L571.35,77.86 L573.81,69.81" fill="none" stroke="#1f6fe0" stroke-width="1.4"  stroke-linejoin="round" />
<path d="M83.7,410.86 L86.16,408.13 L88.62,405.45 L91.08,402.83 L93.54,400.27 L95.99,397.76 L98.45,395.3 L100.91,392.89 L103.37,390.53 L105.83,388.22 L108.29,385.96 L110.75,383.74 L113.21,381.56 L115.66,379.43 L118.12,377.33 L120.58,375.28 L123.04,373.25 L125.5,371.27 L127.96,369.31 L130.42,367.39 L132.88,365.5 L135.33,363.63 L137.79,361.79 L140.25,359.98 L142.71,358.19 L145.17,356.42 L147.63,354.67 L150.09,352.94 L152.55,351.23 L155.01,349.53 L157.46,347.85 L159.92,346.18 L162.38,344.52 L164.84,342.87 L167.3,341.23 L169.76,339.6 L172.22,337.99 L174.68,336.4 L177.13,334.81 L179.59,333.25 L182.05,331.7 L184.51,330.16 L186.97,328.65 L189.43,327.15 L191.89,325.67 L194.35,324.21 L196.8,322.76 L199.26,321.34 L201.72,319.94 L204.18,318.57 L206.64,317.21 L209.1,315.88 L211.56,314.57 L214.02,313.28 L216.47,312.02 L218.93,310.79 L221.39,309.58 L223.85,308.39 L226.31,307.23 L228.77,306.1 L231.23,304.98 L233.69,303.89 L236.15,302.83 L238.6,301.79 L241.06,300.77 L243.52,299.77 L245.98,298.8 L248.44,297.84 L250.9,296.91 L253.36,296 L255.82,295.12 L258.27,294.25 L260.73,293.4 L263.19,292.58 L265.65,291.78 L268.11,290.99 L270.57,290.23 L273.03,289.48 L275.49,288.75 L277.94,288.05 L280.4,287.36 L282.86,286.69 L285.32,286.04 L287.78,285.4 L290.24,284.79 L292.7,284.19 L295.16,283.6 L297.62,283.04 L300.07,282.49 L302.53,281.96 L304.99,281.44 L307.45,280.94 L309.91,280.46 L312.37,279.99 L314.83,279.53 L317.29,279.09 L319.74,278.67 L322.2,278.26 L324.66,277.86 L327.12,277.48 L329.58,277.11 L332.04,276.75 L334.5,276.41 L336.96,276.08 L339.41,275.76 L341.87,275.45 L344.33,275.16 L346.79,274.87 L349.25,274.6 L351.71,274.33 L354.17,274.07 L356.63,273.82 L359.08,273.57 L361.54,273.32 L364,273.07 L366.46,272.83 L368.92,272.58 L371.38,272.32 L373.84,272.06 L376.3,271.8 L378.76,271.52 L381.21,271.24 L383.67,270.94 L386.13,270.63 L388.59,270.31 L391.05,269.97 L393.51,269.62 L395.97,269.24 L398.43,268.85 L400.88,268.43 L403.34,267.99 L405.8,267.53 L408.26,267.04 L410.72,266.52 L413.18,265.98 L415.64,265.4 L418.1,264.79 L420.55,264.15 L423.01,263.47 L425.47,262.76 L427.93,262.01 L430.39,261.21 L432.85,260.38 L435.31,259.5 L437.77,258.59 L440.23,257.62 L442.68,256.61 L445.14,255.55 L447.6,254.44 L450.06,253.28 L452.52,252.06 L454.98,250.79 L457.44,249.47 L459.9,248.08 L462.35,246.64 L464.81,245.14 L467.27,243.58 L469.73,241.95 L472.19,240.26 L474.65,238.5 L477.11,236.67 L479.57,234.78 L482.02,232.81 L484.48,230.77 L486.94,228.66 L489.4,226.46 L491.86,224.18 L494.32,221.81 L496.78,219.34 L499.24,216.78 L501.69,214.11 L504.15,211.34 L506.61,208.45 L509.07,205.45 L511.53,202.33 L513.99,199.08 L516.45,195.7 L518.91,192.18 L521.37,188.53 L523.82,184.73 L526.28,180.78 L528.74,176.69 L531.2,172.43 L533.66,168.01 L536.12,163.43 L538.58,158.68 L541.04,153.75 L543.49,148.63 L545.95,143.33 L548.41,137.82 L550.87,132.1 L553.33,126.17 L555.79,120 L558.25,113.59 L560.71,106.93 L563.16,100.01 L565.62,92.82 L568.08,85.36 L570.54,77.61 L573,69.56" fill="none" stroke="#35a862" stroke-width="1.5"  stroke-linejoin="round" />
<rect x="70.1" y="6.45" width="555" height="447.5" fill="none" stroke="#1c1c1c" stroke-width="1.6"/>
<line x1="61.6" y1="453.95" x2="70.1" y2="453.95" stroke="#1c1c1c" stroke-width="1.6" />
<text x="58.7" y="461.25" font-size="18.9" text-anchor="end" fill="#000" >297</text>
<line x1="65.9" y1="431.57" x2="70.1" y2="431.57" stroke="#1c1c1c" stroke-width="1.6" />
<line x1="620.9" y1="431.57" x2="625.1" y2="431.57" stroke="#1c1c1c" stroke-width="1.6" />
<line x1="61.6" y1="409.2" x2="70.1" y2="409.2" stroke="#1c1c1c" stroke-width="1.6" />
<line x1="616.6" y1="409.2" x2="625.1" y2="409.2" stroke="#1c1c1c" stroke-width="1.6" />
<text x="58.7" y="416.5" font-size="18.9" text-anchor="end" fill="#000" >298</text>
<line x1="65.9" y1="386.82" x2="70.1" y2="386.82" stroke="#1c1c1c" stroke-width="1.6" />
<line x1="620.9" y1="386.82" x2="625.1" y2="386.82" stroke="#1c1c1c" stroke-width="1.6" />
<line x1="61.6" y1="364.45" x2="70.1" y2="364.45" stroke="#1c1c1c" stroke-width="1.6" />
<line x1="616.6" y1="364.45" x2="625.1" y2="364.45" stroke="#1c1c1c" stroke-width="1.6" />
<text x="58.7" y="371.75" font-size="18.9" text-anchor="end" fill="#000" >299</text>
<line x1="65.9" y1="342.07" x2="70.1" y2="342.07" stroke="#1c1c1c" stroke-width="1.6" />
<line x1="620.9" y1="342.07" x2="625.1" y2="342.07" stroke="#1c1c1c" stroke-width="1.6" />
<line x1="61.6" y1="319.7" x2="70.1" y2="319.7" stroke="#1c1c1c" stroke-width="1.6" />
<line x1="616.6" y1="319.7" x2="625.1" y2="319.7" stroke="#1c1c1c" stroke-width="1.6" />
<text x="58.7" y="327" font-size="18.9" text-anchor="end" fill="#000" >300</text>
<line x1="65.9" y1="297.32" x2="70.1" y2="297.32" stroke="#1c1c1c" stroke-width="1.6" />
<line x1="620.9" y1="297.32" x2="625.1" y2="297.32" stroke="#1c1c1c" stroke-width="1.6" />
<line x1="61.6" y1="274.95" x2="70.1" y2="274.95" stroke="#1c1c1c" stroke-width="1.6" />
<line x1="616.6" y1="274.95" x2="625.1" y2="274.95" stroke="#1c1c1c" stroke-width="1.6" />
<text x="58.7" y="282.25" font-size="18.9" text-anchor="end" fill="#000" >301</text>
<line x1="65.9" y1="252.57" x2="70.1" y2="252.57" stroke="#1c1c1c" stroke-width="1.6" />
<line x1="620.9" y1="252.57" x2="625.1" y2="252.57" stroke="#1c1c1c" stroke-width="1.6" />
<line x1="61.6" y1="230.2" x2="70.1" y2="230.2" stroke="#1c1c1c" stroke-width="1.6" />
<line x1="616.6" y1="230.2" x2="625.1" y2="230.2" stroke="#1c1c1c" stroke-width="1.6" />
<text x="58.7" y="237.5" font-size="18.9" text-anchor="end" fill="#000" >302</text>
<line x1="65.9" y1="207.82" x2="70.1" y2="207.82" stroke="#1c1c1c" stroke-width="1.6" />
<line x1="620.9" y1="207.82" x2="625.1" y2="207.82" stroke="#1c1c1c" stroke-width="1.6" />
<line x1="61.6" y1="185.45" x2="70.1" y2="185.45" stroke="#1c1c1c" stroke-width="1.6" />
<line x1="616.6" y1="185.45" x2="625.1" y2="185.45" stroke="#1c1c1c" stroke-width="1.6" />
<text x="58.7" y="192.75" font-size="18.9" text-anchor="end" fill="#000" >303</text>
<line x1="65.9" y1="163.07" x2="70.1" y2="163.07" stroke="#1c1c1c" stroke-width="1.6" />
<line x1="620.9" y1="163.07" x2="625.1" y2="163.07" stroke="#1c1c1c" stroke-width="1.6" />
<line x1="61.6" y1="140.7" x2="70.1" y2="140.7" stroke="#1c1c1c" stroke-width="1.6" />
<line x1="616.6" y1="140.7" x2="625.1" y2="140.7" stroke="#1c1c1c" stroke-width="1.6" />
<text x="58.7" y="148" font-size="18.9" text-anchor="end" fill="#000" >304</text>
<line x1="65.9" y1="118.32" x2="70.1" y2="118.32" stroke="#1c1c1c" stroke-width="1.6" />
<line x1="620.9" y1="118.32" x2="625.1" y2="118.32" stroke="#1c1c1c" stroke-width="1.6" />
<line x1="61.6" y1="95.95" x2="70.1" y2="95.95" stroke="#1c1c1c" stroke-width="1.6" />
<line x1="616.6" y1="95.95" x2="625.1" y2="95.95" stroke="#1c1c1c" stroke-width="1.6" />
<text x="58.7" y="103.25" font-size="18.9" text-anchor="end" fill="#000" >305</text>
<line x1="65.9" y1="73.57" x2="70.1" y2="73.57" stroke="#1c1c1c" stroke-width="1.6" />
<line x1="620.9" y1="73.57" x2="625.1" y2="73.57" stroke="#1c1c1c" stroke-width="1.6" />
<line x1="61.6" y1="51.2" x2="70.1" y2="51.2" stroke="#1c1c1c" stroke-width="1.6" />
<line x1="616.6" y1="51.2" x2="625.1" y2="51.2" stroke="#1c1c1c" stroke-width="1.6" />
<text x="58.7" y="58.5" font-size="18.9" text-anchor="end" fill="#000" >306</text>
<line x1="65.9" y1="28.82" x2="70.1" y2="28.82" stroke="#1c1c1c" stroke-width="1.6" />
<line x1="620.9" y1="28.82" x2="625.1" y2="28.82" stroke="#1c1c1c" stroke-width="1.6" />
<line x1="61.6" y1="6.45" x2="70.1" y2="6.45" stroke="#1c1c1c" stroke-width="1.6" />
<text x="58.7" y="13.75" font-size="18.9" text-anchor="end" fill="#000" >307</text>
<line x1="83.5" y1="453.95" x2="83.5" y2="462.25" stroke="#1c1c1c" stroke-width="1.6" />
<line x1="84.05" y1="6.45" x2="84.05" y2="15.58" stroke="#1c1c1c" stroke-width="1.6" />
<text x="83.5" y="484" font-size="18.9" text-anchor="middle" fill="#000" >0</text>
<line x1="110.61" y1="453.95" x2="110.61" y2="458.15" stroke="#1c1c1c" stroke-width="1.6" />
<line x1="111.12" y1="6.45" x2="111.12" y2="11.07" stroke="#1c1c1c" stroke-width="1.6" />
<line x1="137.72" y1="453.95" x2="137.72" y2="462.25" stroke="#1c1c1c" stroke-width="1.6" />
<line x1="138.19" y1="6.45" x2="138.19" y2="15.58" stroke="#1c1c1c" stroke-width="1.6" />
<text x="137.72" y="484" font-size="18.9" text-anchor="middle" fill="#000" >400</text>
<line x1="164.83" y1="453.95" x2="164.83" y2="458.15" stroke="#1c1c1c" stroke-width="1.6" />
<line x1="165.26" y1="6.45" x2="165.26" y2="11.07" stroke="#1c1c1c" stroke-width="1.6" />
<line x1="191.94" y1="453.95" x2="191.94" y2="462.25" stroke="#1c1c1c" stroke-width="1.6" />
<line x1="192.33" y1="6.45" x2="192.33" y2="15.58" stroke="#1c1c1c" stroke-width="1.6" />
<text x="191.94" y="484" font-size="18.9" text-anchor="middle" fill="#000" >800</text>
<line x1="219.06" y1="453.95" x2="219.06" y2="458.15" stroke="#1c1c1c" stroke-width="1.6" />
<line x1="219.4" y1="6.45" x2="219.4" y2="11.07" stroke="#1c1c1c" stroke-width="1.6" />
<line x1="246.17" y1="453.95" x2="246.17" y2="462.25" stroke="#1c1c1c" stroke-width="1.6" />
<line x1="246.47" y1="6.45" x2="246.47" y2="15.58" stroke="#1c1c1c" stroke-width="1.6" />
<text x="246.17" y="484" font-size="18.9" text-anchor="middle" fill="#000" >1200</text>
<line x1="273.28" y1="453.95" x2="273.28" y2="458.15" stroke="#1c1c1c" stroke-width="1.6" />
<line x1="273.54" y1="6.45" x2="273.54" y2="11.07" stroke="#1c1c1c" stroke-width="1.6" />
<line x1="300.39" y1="453.95" x2="300.39" y2="462.25" stroke="#1c1c1c" stroke-width="1.6" />
<line x1="300.61" y1="6.45" x2="300.61" y2="15.58" stroke="#1c1c1c" stroke-width="1.6" />
<text x="300.39" y="484" font-size="18.9" text-anchor="middle" fill="#000" >1600</text>
<line x1="327.5" y1="453.95" x2="327.5" y2="458.15" stroke="#1c1c1c" stroke-width="1.6" />
<line x1="327.68" y1="6.45" x2="327.68" y2="11.07" stroke="#1c1c1c" stroke-width="1.6" />
<line x1="354.61" y1="453.95" x2="354.61" y2="462.25" stroke="#1c1c1c" stroke-width="1.6" />
<line x1="354.75" y1="6.45" x2="354.75" y2="15.58" stroke="#1c1c1c" stroke-width="1.6" />
<text x="354.61" y="484" font-size="18.9" text-anchor="middle" fill="#000" >2000</text>
<line x1="381.72" y1="453.95" x2="381.72" y2="458.15" stroke="#1c1c1c" stroke-width="1.6" />
<line x1="381.82" y1="6.45" x2="381.82" y2="11.07" stroke="#1c1c1c" stroke-width="1.6" />
<line x1="408.83" y1="453.95" x2="408.83" y2="462.25" stroke="#1c1c1c" stroke-width="1.6" />
<line x1="408.89" y1="6.45" x2="408.89" y2="15.58" stroke="#1c1c1c" stroke-width="1.6" />
<text x="408.83" y="484" font-size="18.9" text-anchor="middle" fill="#000" >2400</text>
<line x1="435.94" y1="453.95" x2="435.94" y2="458.15" stroke="#1c1c1c" stroke-width="1.6" />
<line x1="435.96" y1="6.45" x2="435.96" y2="11.07" stroke="#1c1c1c" stroke-width="1.6" />
<line x1="463.05" y1="453.95" x2="463.05" y2="462.25" stroke="#1c1c1c" stroke-width="1.6" />
<line x1="463.03" y1="6.45" x2="463.03" y2="15.58" stroke="#1c1c1c" stroke-width="1.6" />
<text x="463.05" y="484" font-size="18.9" text-anchor="middle" fill="#000" >2800</text>
<line x1="490.17" y1="453.95" x2="490.17" y2="458.15" stroke="#1c1c1c" stroke-width="1.6" />
<line x1="490.1" y1="6.45" x2="490.1" y2="11.07" stroke="#1c1c1c" stroke-width="1.6" />
<line x1="517.28" y1="453.95" x2="517.28" y2="462.25" stroke="#1c1c1c" stroke-width="1.6" />
<line x1="517.17" y1="6.45" x2="517.17" y2="15.58" stroke="#1c1c1c" stroke-width="1.6" />
<text x="517.28" y="484" font-size="18.9" text-anchor="middle" fill="#000" >3200</text>
<line x1="544.39" y1="453.95" x2="544.39" y2="458.15" stroke="#1c1c1c" stroke-width="1.6" />
<line x1="544.24" y1="6.45" x2="544.24" y2="11.07" stroke="#1c1c1c" stroke-width="1.6" />
<line x1="571.5" y1="453.95" x2="571.5" y2="462.25" stroke="#1c1c1c" stroke-width="1.6" />
<line x1="571.31" y1="6.45" x2="571.31" y2="15.58" stroke="#1c1c1c" stroke-width="1.6" />
<text x="571.5" y="484" font-size="18.9" text-anchor="middle" fill="#000" >3600</text>
<line x1="598.61" y1="453.95" x2="598.61" y2="458.15" stroke="#1c1c1c" stroke-width="1.6" />
<line x1="598.38" y1="6.45" x2="598.38" y2="11.07" stroke="#1c1c1c" stroke-width="1.6" />
<line x1="625.72" y1="453.95" x2="625.72" y2="462.25" stroke="#1c1c1c" stroke-width="1.6" />
<text x="625.72" y="484" font-size="18.9" text-anchor="middle" fill="#000" >4000</text>
<text x="348" y="507.8" font-size="23.45" text-anchor="middle" fill="#000" >Discharge time (s)</text>
<text transform="translate(17.8,230.2) rotate(-90)" font-size="23.55" text-anchor="middle" fill="#000">Temperature (K)</text>
<text x="668.1" y="515.5" font-size="32" text-anchor="middle" fill="#000" >(a)</text>
<rect x="92.6" y="19.6" width="195.2" height="104.2" fill="#fff" stroke="#2a2a2a" stroke-width="1"/>
<rect x="92.6" y="135.5" width="195.2" height="102.7" fill="#fff" stroke="#2a2a2a" stroke-width="1"/>
<text x="94.05" y="36.1" font-size="16.3" text-anchor="start" fill="#000" textLength="134.6" lengthAdjust="spacingAndGlyphs">Experimental results</text>
<text x="94.2" y="153.1" font-size="16.3" text-anchor="start" fill="#000" textLength="114.4" lengthAdjust="spacingAndGlyphs">Simulation results</text>
<rect x="109.8" y="48.75" width="5.4" height="5.4" fill="#4d4d4d"/>
<text x="131.9" y="56.85" font-size="16.3" text-anchor="start" fill="#000" >T1</text>
<rect x="175.7" y="48.75" width="5.4" height="5.4" fill="#4d4d4d"/>
<text x="197.8" y="56.85" font-size="16.3" text-anchor="start" fill="#000" >T2</text>
<rect x="241" y="48.75" width="5.4" height="5.4" fill="#4d4d4d"/>
<text x="262.9" y="56.85" font-size="16.3" text-anchor="start" fill="#000" >T3</text>
<path d="M112.5,67.99 L116.2,74.21 L108.8,74.21Z" fill="#ee3a3c"/>
<text x="131.9" y="77" font-size="16.3" text-anchor="start" fill="#000" >T4</text>
<path d="M178.4,67.99 L182.1,74.21 L174.7,74.21Z" fill="#ee3a3c"/>
<text x="197.8" y="77" font-size="16.3" text-anchor="start" fill="#000" >T5</text>
<path d="M243.7,67.99 L247.4,74.21 L240,74.21Z" fill="#ee3a3c"/>
<text x="262.9" y="77" font-size="16.3" text-anchor="start" fill="#000" >T6</text>
<path d="M112.5,88.1 L116.7,92.3 L112.5,96.5 L108.3,92.3Z" fill="#1f6fe0"/>
<text x="131.9" y="97.7" font-size="16.3" text-anchor="start" fill="#000" >T7</text>
<path d="M178.4,88.1 L182.6,92.3 L178.4,96.5 L174.2,92.3Z" fill="#1f6fe0"/>
<text x="197.8" y="97.7" font-size="16.3" text-anchor="start" fill="#000" >T8</text>
<path d="M243.7,88.1 L247.9,92.3 L243.7,96.5 L239.5,92.3Z" fill="#1f6fe0"/>
<text x="262.9" y="97.7" font-size="16.3" text-anchor="start" fill="#000" >T9</text>
<path d="M108.39,112.7 L115.48,108.85 L115.48,116.55Z" fill="#35a862"/>
<text x="131.9" y="118.1" font-size="16.3" text-anchor="start" fill="#000" >Ts1</text>
<path d="M174.29,112.7 L181.38,108.85 L181.38,116.55Z" fill="#35a862"/>
<text x="197.8" y="118.1" font-size="16.3" text-anchor="start" fill="#000" >Ts2</text>
<path d="M239.59,112.7 L246.68,108.85 L246.68,116.55Z" fill="#35a862"/>
<text x="262.9" y="118.1" font-size="16.3" text-anchor="start" fill="#000" >Ts3</text>
<line x1="94.2" y1="166.65" x2="130.2" y2="166.65" stroke="#3a3a3a" stroke-width="1.3" />
<text x="130.4" y="172.3" font-size="16.3" text-anchor="start" fill="#000" >T1</text>
<line x1="157.9" y1="166.65" x2="193.7" y2="166.65" stroke="#3a3a3a" stroke-width="1.3" stroke-dasharray="7.6 9.2"/>
<text x="193.9" y="172.3" font-size="16.3" text-anchor="start" fill="#000" >T2</text>
<line x1="220.7" y1="166.65" x2="257.1" y2="166.65" stroke="#3a3a3a" stroke-width="1.3" stroke-dasharray="1.4 1.9"/>
<text x="257.7" y="172.3" font-size="16.3" text-anchor="start" fill="#000" >T3</text>
<line x1="94.2" y1="186.6" x2="130.2" y2="186.6" stroke="#ee3a3c" stroke-width="1.3" />
<text x="130.4" y="192.25" font-size="16.3" text-anchor="start" fill="#000" >T4</text>
<line x1="157.9" y1="186.6" x2="193.7" y2="186.6" stroke="#ee3a3c" stroke-width="1.3" stroke-dasharray="7.6 9.2"/>
<text x="193.9" y="192.25" font-size="16.3" text-anchor="start" fill="#000" >T5</text>
<line x1="220.7" y1="186.6" x2="257.1" y2="186.6" stroke="#ee3a3c" stroke-width="1.3" stroke-dasharray="1.4 1.9"/>
<text x="257.7" y="192.25" font-size="16.3" text-anchor="start" fill="#000" >T6</text>
<line x1="94.2" y1="206.5" x2="130.2" y2="206.5" stroke="#1f6fe0" stroke-width="1.3" />
<text x="130.4" y="212.15" font-size="16.3" text-anchor="start" fill="#000" >T7</text>
<line x1="157.9" y1="206.5" x2="193.7" y2="206.5" stroke="#1f6fe0" stroke-width="1.3" stroke-dasharray="7.6 9.2"/>
<text x="193.9" y="212.15" font-size="16.3" text-anchor="start" fill="#000" >T8</text>
<line x1="220.7" y1="206.5" x2="257.1" y2="206.5" stroke="#1f6fe0" stroke-width="1.3" stroke-dasharray="1.4 1.9"/>
<text x="257.7" y="212.15" font-size="16.3" text-anchor="start" fill="#000" >T9</text>
<line x1="94.2" y1="225.9" x2="130.2" y2="225.9" stroke="#35a862" stroke-width="1.3" />
<text x="130.4" y="231.55" font-size="16.3" text-anchor="start" fill="#000" >Ts1</text>
<line x1="157.9" y1="225.9" x2="193.7" y2="225.9" stroke="#35a862" stroke-width="1.3" stroke-dasharray="7.6 9.2"/>
<text x="193.9" y="231.55" font-size="16.3" text-anchor="start" fill="#000" >Ts2</text>
<line x1="220.7" y1="225.9" x2="257.1" y2="225.9" stroke="#35a862" stroke-width="1.3" stroke-dasharray="1.4 1.9"/>
<text x="257.7" y="231.55" font-size="16.3" text-anchor="start" fill="#000" >Ts3</text>
<polygon points="449.4,302.7 477,316.2 475.6,441.4 449.6,427.4" fill="#98cbea"/>
<polygon points="477,316.2 601.8,274.9 601.8,399 475.6,441.4" fill="#97cbeb"/>
<polygon points="475.2,315.3 478.8,315.6 477.4,440.8 475.6,441.4 473.8,440.4" fill="#a4d3ef"/>
<polygon points="449.4,302.7 571.5,262 574.5,261.9 601.8,274.9 477,316.6" fill="#93e4fb"/>
<path d="M466,300.6 v3.6 a12.3,5.1 0 0 0 24.6,0 v-3.6Z" fill="#8dc7e7"/>
<ellipse cx="478.3" cy="300.6" rx="12.3" ry="5.1" fill="#97e5fb" stroke="#8bd2ee" stroke-width="0.7"/>
<path d="M560.2,269.2 v3.6 a12.3,5.1 0 0 0 24.6,0 v-3.6Z" fill="#8dc7e7"/>
<ellipse cx="572.5" cy="269.2" rx="12.3" ry="5.1" fill="#97e5fb" stroke="#8bd2ee" stroke-width="0.7"/>
<circle cx="461.5" cy="335" r="3.6" fill="#f0121c"/>
<circle cx="461.5" cy="374.7" r="3.6" fill="#f0121c"/>
<circle cx="461.5" cy="410" r="3.6" fill="#f0121c"/>
<circle cx="501.5" cy="331.8" r="3.6" fill="#f0121c"/>
<circle cx="502.1" cy="369.1" r="3.6" fill="#f0121c"/>
<circle cx="503" cy="407.7" r="3.6" fill="#f0121c"/>
<circle cx="542.4" cy="317.7" r="3.6" fill="#f0121c"/>
<circle cx="543.3" cy="355.1" r="3.6" fill="#f0121c"/>
<circle cx="544.5" cy="393.1" r="3.6" fill="#f0121c"/>
<circle cx="581.8" cy="304" r="3.6" fill="#f0121c"/>
<circle cx="582.7" cy="342" r="3.6" fill="#f0121c"/>
<circle cx="583.9" cy="379.9" r="3.6" fill="#f0121c"/>
<text x="460.7" y="349.9" font-size="12.6" text-anchor="middle" fill="#000" font-weight="bold">Ts1</text>
<text x="460.7" y="388.7" font-size="12.6" text-anchor="middle" fill="#000" font-weight="bold">Ts2</text>
<text x="460.7" y="424.3" font-size="12.6" text-anchor="middle" fill="#000" font-weight="bold">Ts3</text>
<text x="499.2" y="346.4" font-size="12.6" text-anchor="middle" fill="#000" font-weight="bold">T1</text>
<text x="500.1" y="383.7" font-size="12.6" text-anchor="middle" fill="#000" font-weight="bold">T4</text>
<text x="500.7" y="421.7" font-size="12.6" text-anchor="middle" fill="#000" font-weight="bold">T7</text>
<text x="540.9" y="332.6" font-size="12.6" text-anchor="middle" fill="#000" font-weight="bold">T2</text>
<text x="540.9" y="370.3" font-size="12.6" text-anchor="middle" fill="#000" font-weight="bold">T5</text>
<text x="541.5" y="407.7" font-size="12.6" text-anchor="middle" fill="#000" font-weight="bold">T8</text>
<text x="580.4" y="318.6" font-size="12.6" text-anchor="middle" fill="#000" font-weight="bold">T3</text>
<text x="580.9" y="356.6" font-size="12.6" text-anchor="middle" fill="#000" font-weight="bold">T6</text>
<text x="581.8" y="395.1" font-size="12.6" text-anchor="middle" fill="#000" font-weight="bold">T9</text>
<rect x="136.15" y="1007.95" width="5.5" height="5.5" fill="#4d4d4d"/>
<rect x="136.15" y="1007.95" width="5.5" height="5.5" fill="#4d4d4d"/>
<rect x="136.15" y="1007.95" width="5.5" height="5.5" fill="#4d4d4d"/>
<rect x="157.87" y="995.25" width="5.5" height="5.5" fill="#4d4d4d"/>
<rect x="157.87" y="998.25" width="5.5" height="5.5" fill="#4d4d4d"/>
<rect x="157.87" y="1001.25" width="5.5" height="5.5" fill="#4d4d4d"/>
<rect x="179.58" y="975.25" width="5.5" height="5.5" fill="#4d4d4d"/>
<rect x="179.58" y="980.25" width="5.5" height="5.5" fill="#4d4d4d"/>
<rect x="179.58" y="985.25" width="5.5" height="5.5" fill="#4d4d4d"/>
<rect x="201.3" y="953.75" width="5.5" height="5.5" fill="#4d4d4d"/>
<rect x="201.3" y="960.25" width="5.5" height="5.5" fill="#4d4d4d"/>
<rect x="201.3" y="966.75" width="5.5" height="5.5" fill="#4d4d4d"/>
<rect x="223.01" y="931.85" width="5.5" height="5.5" fill="#4d4d4d"/>
<rect x="223.01" y="939.25" width="5.5" height="5.5" fill="#4d4d4d"/>
<rect x="223.01" y="946.65" width="5.5" height="5.5" fill="#4d4d4d"/>
<rect x="244.73" y="912.75" width="5.5" height="5.5" fill="#4d4d4d"/>
<rect x="244.73" y="920.35" width="5.5" height="5.5" fill="#4d4d4d"/>
<rect x="244.73" y="927.95" width="5.5" height="5.5" fill="#4d4d4d"/>
<rect x="266.45" y="893.25" width="5.5" height="5.5" fill="#4d4d4d"/>
<rect x="266.45" y="901.75" width="5.5" height="5.5" fill="#4d4d4d"/>
<rect x="266.45" y="910.25" width="5.5" height="5.5" fill="#4d4d4d"/>
<rect x="288.16" y="874.95" width="5.5" height="5.5" fill="#4d4d4d"/>
<rect x="288.16" y="884.25" width="5.5" height="5.5" fill="#4d4d4d"/>
<rect x="288.16" y="893.55" width="5.5" height="5.5" fill="#4d4d4d"/>
<rect x="309.88" y="856.25" width="5.5" height="5.5" fill="#4d4d4d"/>
<rect x="309.88" y="866.25" width="5.5" height="5.5" fill="#4d4d4d"/>
<rect x="309.88" y="876.25" width="5.5" height="5.5" fill="#4d4d4d"/>
<rect x="331.59" y="839.25" width="5.5" height="5.5" fill="#4d4d4d"/>
<rect x="331.59" y="849.75" width="5.5" height="5.5" fill="#4d4d4d"/>
<rect x="331.59" y="860.25" width="5.5" height="5.5" fill="#4d4d4d"/>
<rect x="353.31" y="823.75" width="5.5" height="5.5" fill="#4d4d4d"/>
<rect x="353.31" y="834.25" width="5.5" height="5.5" fill="#4d4d4d"/>
<rect x="353.31" y="844.75" width="5.5" height="5.5" fill="#4d4d4d"/>
<rect x="375.03" y="807.85" width="5.5" height="5.5" fill="#4d4d4d"/>
<rect x="375.03" y="818.35" width="5.5" height="5.5" fill="#4d4d4d"/>
<rect x="375.03" y="828.85" width="5.5" height="5.5" fill="#4d4d4d"/>
<rect x="396.74" y="790.05" width="5.5" height="5.5" fill="#4d4d4d"/>
<rect x="396.74" y="800.55" width="5.5" height="5.5" fill="#4d4d4d"/>
<rect x="396.74" y="811.05" width="5.5" height="5.5" fill="#4d4d4d"/>
<rect x="418.46" y="778.35" width="5.5" height="5.5" fill="#4d4d4d"/>
<rect x="418.46" y="788.85" width="5.5" height="5.5" fill="#4d4d4d"/>
<rect x="418.46" y="799.35" width="5.5" height="5.5" fill="#4d4d4d"/>
<rect x="440.17" y="760.85" width="5.5" height="5.5" fill="#4d4d4d"/>
<rect x="440.17" y="771.35" width="5.5" height="5.5" fill="#4d4d4d"/>
<rect x="440.17" y="781.85" width="5.5" height="5.5" fill="#4d4d4d"/>
<rect x="461.89" y="747.15" width="5.5" height="5.5" fill="#4d4d4d"/>
<rect x="461.89" y="757.65" width="5.5" height="5.5" fill="#4d4d4d"/>
<rect x="461.89" y="768.15" width="5.5" height="5.5" fill="#4d4d4d"/>
<rect x="483.61" y="729.05" width="5.5" height="5.5" fill="#4d4d4d"/>
<rect x="483.61" y="739.55" width="5.5" height="5.5" fill="#4d4d4d"/>
<rect x="483.61" y="750.05" width="5.5" height="5.5" fill="#4d4d4d"/>
<rect x="505.32" y="716.65" width="5.5" height="5.5" fill="#4d4d4d"/>
<rect x="505.32" y="727.15" width="5.5" height="5.5" fill="#4d4d4d"/>
<rect x="505.32" y="737.65" width="5.5" height="5.5" fill="#4d4d4d"/>
<rect x="527.04" y="698.45" width="5.5" height="5.5" fill="#4d4d4d"/>
<rect x="527.04" y="708.95" width="5.5" height="5.5" fill="#4d4d4d"/>
<rect x="527.04" y="719.45" width="5.5" height="5.5" fill="#4d4d4d"/>
<rect x="548.75" y="679.25" width="5.5" height="5.5" fill="#4d4d4d"/>
<rect x="548.75" y="689.75" width="5.5" height="5.5" fill="#4d4d4d"/>
<rect x="548.75" y="700.25" width="5.5" height="5.5" fill="#4d4d4d"/>
<rect x="570.47" y="658.25" width="5.5" height="5.5" fill="#4d4d4d"/>
<rect x="570.47" y="666.25" width="5.5" height="5.5" fill="#4d4d4d"/>
<rect x="570.47" y="679.25" width="5.5" height="5.5" fill="#4d4d4d"/>
<path d="M138.9,1007.09 L142.6,1013.31 L135.2,1013.31Z" fill="#ee3a3c"/>
<path d="M138.9,1007.09 L142.6,1013.31 L135.2,1013.31Z" fill="#ee3a3c"/>
<path d="M138.9,1007.09 L142.6,1013.31 L135.2,1013.31Z" fill="#ee3a3c"/>
<path d="M160.62,999.31 L164.32,1005.53 L156.92,1005.53Z" fill="#ee3a3c"/>
<path d="M160.62,999.39 L164.32,1005.61 L156.92,1005.61Z" fill="#ee3a3c"/>
<path d="M160.62,999.49 L164.32,1005.71 L156.92,1005.71Z" fill="#ee3a3c"/>
<path d="M182.33,986.53 L186.03,992.75 L178.63,992.75Z" fill="#ee3a3c"/>
<path d="M182.33,986.69 L186.03,992.91 L178.63,992.91Z" fill="#ee3a3c"/>
<path d="M182.33,986.89 L186.03,993.11 L178.63,993.11Z" fill="#ee3a3c"/>
<path d="M204.05,969.75 L207.75,975.97 L200.35,975.97Z" fill="#ee3a3c"/>
<path d="M204.05,969.99 L207.75,976.21 L200.35,976.21Z" fill="#ee3a3c"/>
<path d="M204.05,970.29 L207.75,976.51 L200.35,976.51Z" fill="#ee3a3c"/>
<path d="M225.76,953.67 L229.46,959.89 L222.06,959.89Z" fill="#ee3a3c"/>
<path d="M225.76,953.99 L229.46,960.21 L222.06,960.21Z" fill="#ee3a3c"/>
<path d="M225.76,954.39 L229.46,960.61 L222.06,960.61Z" fill="#ee3a3c"/>
<path d="M247.48,936.39 L251.18,942.61 L243.78,942.61Z" fill="#ee3a3c"/>
<path d="M247.48,936.79 L251.18,943.01 L243.78,943.01Z" fill="#ee3a3c"/>
<path d="M247.48,937.29 L251.18,943.51 L243.78,943.51Z" fill="#ee3a3c"/>
<path d="M269.2,919.61 L272.9,925.83 L265.5,925.83Z" fill="#ee3a3c"/>
<path d="M269.2,920.09 L272.9,926.31 L265.5,926.31Z" fill="#ee3a3c"/>
<path d="M269.2,920.69 L272.9,926.91 L265.5,926.91Z" fill="#ee3a3c"/>
<path d="M290.91,904.13 L294.61,910.35 L287.21,910.35Z" fill="#ee3a3c"/>
<path d="M290.91,904.69 L294.61,910.91 L287.21,910.91Z" fill="#ee3a3c"/>
<path d="M290.91,905.39 L294.61,911.61 L287.21,911.61Z" fill="#ee3a3c"/>
<path d="M312.63,887.35 L316.33,893.57 L308.93,893.57Z" fill="#ee3a3c"/>
<path d="M312.63,887.99 L316.33,894.21 L308.93,894.21Z" fill="#ee3a3c"/>
<path d="M312.63,888.79 L316.33,895.01 L308.93,895.01Z" fill="#ee3a3c"/>
<path d="M334.34,871.97 L338.04,878.19 L330.64,878.19Z" fill="#ee3a3c"/>
<path d="M334.34,872.69 L338.04,878.91 L330.64,878.91Z" fill="#ee3a3c"/>
<path d="M334.34,873.59 L338.04,879.81 L330.64,879.81Z" fill="#ee3a3c"/>
<path d="M356.06,856.69 L359.76,862.91 L352.36,862.91Z" fill="#ee3a3c"/>
<path d="M356.06,857.49 L359.76,863.71 L352.36,863.71Z" fill="#ee3a3c"/>
<path d="M356.06,858.49 L359.76,864.71 L352.36,864.71Z" fill="#ee3a3c"/>
<path d="M377.78,842.81 L381.48,849.03 L374.08,849.03Z" fill="#ee3a3c"/>
<path d="M377.78,843.69 L381.48,849.91 L374.08,849.91Z" fill="#ee3a3c"/>
<path d="M377.78,844.79 L381.48,851.01 L374.08,851.01Z" fill="#ee3a3c"/>
<path d="M399.49,827.03 L403.19,833.25 L395.79,833.25Z" fill="#ee3a3c"/>
<path d="M399.49,827.99 L403.19,834.21 L395.79,834.21Z" fill="#ee3a3c"/>
<path d="M399.49,829.19 L403.19,835.41 L395.79,835.41Z" fill="#ee3a3c"/>
<path d="M421.21,812.05 L424.91,818.27 L417.51,818.27Z" fill="#ee3a3c"/>
<path d="M421.21,813.09 L424.91,819.31 L417.51,819.31Z" fill="#ee3a3c"/>
<path d="M421.21,814.39 L424.91,820.61 L417.51,820.61Z" fill="#ee3a3c"/>
<path d="M442.92,796.17 L446.62,802.39 L439.22,802.39Z" fill="#ee3a3c"/>
<path d="M442.92,797.29 L446.62,803.51 L439.22,803.51Z" fill="#ee3a3c"/>
<path d="M442.92,798.69 L446.62,804.91 L439.22,804.91Z" fill="#ee3a3c"/>
<path d="M464.64,780.69 L468.34,786.91 L460.94,786.91Z" fill="#ee3a3c"/>
<path d="M464.64,781.89 L468.34,788.11 L460.94,788.11Z" fill="#ee3a3c"/>
<path d="M464.64,783.39 L468.34,789.61 L460.94,789.61Z" fill="#ee3a3c"/>
<path d="M486.36,763.81 L490.06,770.03 L482.66,770.03Z" fill="#ee3a3c"/>
<path d="M486.36,765.09 L490.06,771.31 L482.66,771.31Z" fill="#ee3a3c"/>
<path d="M486.36,766.69 L490.06,772.91 L482.66,772.91Z" fill="#ee3a3c"/>
<path d="M508.07,744.83 L511.77,751.05 L504.37,751.05Z" fill="#ee3a3c"/>
<path d="M508.07,746.19 L511.77,752.41 L504.37,752.41Z" fill="#ee3a3c"/>
<path d="M508.07,747.89 L511.77,754.11 L504.37,754.11Z" fill="#ee3a3c"/>
<path d="M529.79,727.25 L533.49,733.47 L526.09,733.47Z" fill="#ee3a3c"/>
<path d="M529.79,728.69 L533.49,734.91 L526.09,734.91Z" fill="#ee3a3c"/>
<path d="M529.79,730.49 L533.49,736.71 L526.09,736.71Z" fill="#ee3a3c"/>
<path d="M551.5,705.37 L555.2,711.59 L547.8,711.59Z" fill="#ee3a3c"/>
<path d="M551.5,706.89 L555.2,713.11 L547.8,713.11Z" fill="#ee3a3c"/>
<path d="M551.5,708.79 L555.2,715.01 L547.8,715.01Z" fill="#ee3a3c"/>
<path d="M573.22,684.79 L576.92,691.01 L569.52,691.01Z" fill="#ee3a3c"/>
<path d="M573.22,686.39 L576.92,692.61 L569.52,692.61Z" fill="#ee3a3c"/>
<path d="M573.22,688.39 L576.92,694.61 L569.52,694.61Z" fill="#ee3a3c"/>
<path d="M138.9,1006.55 L143.05,1010.7 L138.9,1014.85 L134.75,1010.7Z" fill="#1f6fe0"/>
<path d="M138.9,1006.55 L143.05,1010.7 L138.9,1014.85 L134.75,1010.7Z" fill="#1f6fe0"/>
<path d="M138.9,1006.55 L143.05,1010.7 L138.9,1014.85 L134.75,1010.7Z" fill="#1f6fe0"/>
<path d="M160.62,1001.05 L164.77,1005.2 L160.62,1009.35 L156.47,1005.2Z" fill="#1f6fe0"/>
<path d="M160.62,1001.05 L164.77,1005.2 L160.62,1009.35 L156.47,1005.2Z" fill="#1f6fe0"/>
<path d="M160.62,1001.05 L164.77,1005.2 L160.62,1009.35 L156.47,1005.2Z" fill="#1f6fe0"/>
<path d="M182.33,991.25 L186.48,995.4 L182.33,999.55 L178.18,995.4Z" fill="#1f6fe0"/>
<path d="M182.33,991.25 L186.48,995.4 L182.33,999.55 L178.18,995.4Z" fill="#1f6fe0"/>
<path d="M182.33,991.25 L186.48,995.4 L182.33,999.55 L178.18,995.4Z" fill="#1f6fe0"/>
<path d="M204.05,979.94 L208.2,984.09 L204.05,988.24 L199.9,984.09Z" fill="#1f6fe0"/>
<path d="M204.05,979.95 L208.2,984.1 L204.05,988.25 L199.9,984.1Z" fill="#1f6fe0"/>
<path d="M204.05,979.96 L208.2,984.11 L204.05,988.26 L199.9,984.11Z" fill="#1f6fe0"/>
<path d="M225.76,967.54 L229.91,971.69 L225.76,975.84 L221.61,971.69Z" fill="#1f6fe0"/>
<path d="M225.76,967.55 L229.91,971.7 L225.76,975.85 L221.61,971.7Z" fill="#1f6fe0"/>
<path d="M225.76,967.57 L229.91,971.72 L225.76,975.87 L221.61,971.72Z" fill="#1f6fe0"/>
<path d="M247.48,953.83 L251.63,957.98 L247.48,962.13 L243.33,957.98Z" fill="#1f6fe0"/>
<path d="M247.48,953.85 L251.63,958 L247.48,962.15 L243.33,958Z" fill="#1f6fe0"/>
<path d="M247.48,953.89 L251.63,958.04 L247.48,962.19 L243.33,958.04Z" fill="#1f6fe0"/>
<path d="M269.2,940.01 L273.35,944.16 L269.2,948.31 L265.05,944.16Z" fill="#1f6fe0"/>
<path d="M269.2,940.05 L273.35,944.2 L269.2,948.35 L265.05,944.2Z" fill="#1f6fe0"/>
<path d="M269.2,940.12 L273.35,944.27 L269.2,948.42 L265.05,944.27Z" fill="#1f6fe0"/>
<path d="M290.91,925.99 L295.06,930.14 L290.91,934.29 L286.76,930.14Z" fill="#1f6fe0"/>
<path d="M290.91,926.05 L295.06,930.2 L290.91,934.35 L286.76,930.2Z" fill="#1f6fe0"/>
<path d="M290.91,926.16 L295.06,930.31 L290.91,934.46 L286.76,930.31Z" fill="#1f6fe0"/>
<path d="M312.63,912.75 L316.78,916.9 L312.63,921.05 L308.48,916.9Z" fill="#1f6fe0"/>
<path d="M312.63,912.85 L316.78,917 L312.63,921.15 L308.48,917Z" fill="#1f6fe0"/>
<path d="M312.63,913.01 L316.78,917.16 L312.63,921.31 L308.48,917.16Z" fill="#1f6fe0"/>
<path d="M334.34,898.01 L338.49,902.16 L334.34,906.31 L330.19,902.16Z" fill="#1f6fe0"/>
<path d="M334.34,898.15 L338.49,902.3 L334.34,906.45 L330.19,902.3Z" fill="#1f6fe0"/>
<path d="M334.34,898.38 L338.49,902.53 L334.34,906.68 L330.19,902.53Z" fill="#1f6fe0"/>
<path d="M356.06,884.86 L360.21,889.01 L356.06,893.16 L351.91,889.01Z" fill="#1f6fe0"/>
<path d="M356.06,885.05 L360.21,889.2 L356.06,893.35 L351.91,889.2Z" fill="#1f6fe0"/>
<path d="M356.06,885.36 L360.21,889.51 L356.06,893.66 L351.91,889.51Z" fill="#1f6fe0"/>
<path d="M377.78,870.4 L381.93,874.55 L377.78,878.7 L373.63,874.55Z" fill="#1f6fe0"/>
<path d="M377.78,870.65 L381.93,874.8 L377.78,878.95 L373.63,874.8Z" fill="#1f6fe0"/>
<path d="M377.78,871.07 L381.93,875.22 L377.78,879.37 L373.63,875.22Z" fill="#1f6fe0"/>
<path d="M399.49,856.93 L403.64,861.08 L399.49,865.23 L395.34,861.08Z" fill="#1f6fe0"/>
<path d="M399.49,857.25 L403.64,861.4 L399.49,865.55 L395.34,861.4Z" fill="#1f6fe0"/>
<path d="M399.49,857.79 L403.64,861.94 L399.49,866.09 L395.34,861.94Z" fill="#1f6fe0"/>
<path d="M421.21,843.14 L425.36,847.29 L421.21,851.44 L417.06,847.29Z" fill="#1f6fe0"/>
<path d="M421.21,843.55 L425.36,847.7 L421.21,851.85 L417.06,847.7Z" fill="#1f6fe0"/>
<path d="M421.21,844.24 L425.36,848.39 L421.21,852.54 L417.06,848.39Z" fill="#1f6fe0"/>
<path d="M442.92,828.44 L447.07,832.59 L442.92,836.74 L438.77,832.59Z" fill="#1f6fe0"/>
<path d="M442.92,828.95 L447.07,833.1 L442.92,837.25 L438.77,833.1Z" fill="#1f6fe0"/>
<path d="M442.92,829.81 L447.07,833.96 L442.92,838.11 L438.77,833.96Z" fill="#1f6fe0"/>
<path d="M464.64,813.72 L468.79,817.87 L464.64,822.02 L460.49,817.87Z" fill="#1f6fe0"/>
<path d="M464.64,814.35 L468.79,818.5 L464.64,822.65 L460.49,818.5Z" fill="#1f6fe0"/>
<path d="M464.64,815.4 L468.79,819.55 L464.64,823.7 L460.49,819.55Z" fill="#1f6fe0"/>
<path d="M486.36,797.48 L490.51,801.63 L486.36,805.78 L482.21,801.63Z" fill="#1f6fe0"/>
<path d="M486.36,798.25 L490.51,802.4 L486.36,806.55 L482.21,802.4Z" fill="#1f6fe0"/>
<path d="M486.36,799.53 L490.51,803.68 L486.36,807.83 L482.21,803.68Z" fill="#1f6fe0"/>
<path d="M508.07,780.23 L512.22,784.38 L508.07,788.53 L503.92,784.38Z" fill="#1f6fe0"/>
<path d="M508.07,781.15 L512.22,785.3 L508.07,789.45 L503.92,785.3Z" fill="#1f6fe0"/>
<path d="M508.07,782.69 L512.22,786.84 L508.07,790.99 L503.92,786.84Z" fill="#1f6fe0"/>
<path d="M529.79,763.76 L533.94,767.91 L529.79,772.06 L525.64,767.91Z" fill="#1f6fe0"/>
<path d="M529.79,764.85 L533.94,769 L529.79,773.15 L525.64,769Z" fill="#1f6fe0"/>
<path d="M529.79,766.67 L533.94,770.82 L529.79,774.97 L525.64,770.82Z" fill="#1f6fe0"/>
<path d="M551.5,742.56 L555.65,746.71 L551.5,750.86 L547.35,746.71Z" fill="#1f6fe0"/>
<path d="M551.5,743.85 L555.65,748 L551.5,752.15 L547.35,748Z" fill="#1f6fe0"/>
<path d="M551.5,745.99 L555.65,750.14 L551.5,754.29 L547.35,750.14Z" fill="#1f6fe0"/>
<path d="M573.22,722.35 L577.37,726.5 L573.22,730.65 L569.07,726.5Z" fill="#1f6fe0"/>
<path d="M573.22,723.85 L577.37,728 L573.22,732.15 L569.07,728Z" fill="#1f6fe0"/>
<path d="M573.22,726.35 L577.37,730.5 L573.22,734.65 L569.07,730.5Z" fill="#1f6fe0"/>
<path d="M134.79,1010.7 L141.88,1006.85 L141.88,1014.55Z" fill="#35a862"/>
<path d="M134.79,1011.5 L141.88,1007.65 L141.88,1015.35Z" fill="#35a862"/>
<path d="M134.79,1010.7 L141.88,1006.85 L141.88,1014.55Z" fill="#35a862"/>
<path d="M156.51,1002.65 L163.59,998.8 L163.59,1006.5Z" fill="#35a862"/>
<path d="M156.51,1003.8 L163.59,999.95 L163.59,1007.65Z" fill="#35a862"/>
<path d="M156.51,1005.2 L163.59,1001.35 L163.59,1009.05Z" fill="#35a862"/>
<path d="M178.22,985.75 L185.31,981.9 L185.31,989.6Z" fill="#35a862"/>
<path d="M178.22,991.1 L185.31,987.25 L185.31,994.95Z" fill="#35a862"/>
<path d="M178.22,995.4 L185.31,991.55 L185.31,999.25Z" fill="#35a862"/>
<path d="M199.94,966.58 L207.02,962.73 L207.02,970.43Z" fill="#35a862"/>
<path d="M199.94,974.4 L207.02,970.55 L207.02,978.25Z" fill="#35a862"/>
<path d="M199.94,984.1 L207.02,980.25 L207.02,987.95Z" fill="#35a862"/>
<path d="M221.66,946.07 L228.74,942.22 L228.74,949.92Z" fill="#35a862"/>
<path d="M221.66,958.4 L228.74,954.55 L228.74,962.25Z" fill="#35a862"/>
<path d="M221.66,971.7 L228.74,967.85 L228.74,975.55Z" fill="#35a862"/>
<path d="M243.37,927.28 L250.46,923.43 L250.46,931.13Z" fill="#35a862"/>
<path d="M243.37,941.2 L250.46,937.35 L250.46,945.05Z" fill="#35a862"/>
<path d="M243.37,958 L250.46,954.15 L250.46,961.85Z" fill="#35a862"/>
<path d="M265.09,909.17 L272.17,905.32 L272.17,913.02Z" fill="#35a862"/>
<path d="M265.09,924.5 L272.17,920.65 L272.17,928.35Z" fill="#35a862"/>
<path d="M265.09,944.2 L272.17,940.35 L272.17,948.05Z" fill="#35a862"/>
<path d="M286.8,892.12 L293.89,888.26 L293.89,895.97Z" fill="#35a862"/>
<path d="M286.8,909.1 L293.89,905.25 L293.89,912.95Z" fill="#35a862"/>
<path d="M286.8,930.2 L293.89,926.35 L293.89,934.05Z" fill="#35a862"/>
<path d="M308.52,874.5 L315.6,870.65 L315.6,878.35Z" fill="#35a862"/>
<path d="M308.52,892.4 L315.6,888.55 L315.6,896.25Z" fill="#35a862"/>
<path d="M308.52,917 L315.6,913.15 L315.6,920.85Z" fill="#35a862"/>
<path d="M330.24,858.27 L337.32,854.42 L337.32,862.12Z" fill="#35a862"/>
<path d="M330.24,877.1 L337.32,873.25 L337.32,880.95Z" fill="#35a862"/>
<path d="M330.24,902.3 L337.32,898.45 L337.32,906.15Z" fill="#35a862"/>
<path d="M351.95,842.77 L359.04,838.92 L359.04,846.62Z" fill="#35a862"/>
<path d="M351.95,861.9 L359.04,858.05 L359.04,865.75Z" fill="#35a862"/>
<path d="M351.95,889.2 L359.04,885.35 L359.04,893.05Z" fill="#35a862"/>
<path d="M373.67,826.88 L380.75,823.02 L380.75,830.73Z" fill="#35a862"/>
<path d="M373.67,848.1 L380.75,844.25 L380.75,851.95Z" fill="#35a862"/>
<path d="M373.67,874.8 L380.75,870.95 L380.75,878.65Z" fill="#35a862"/>
<path d="M395.38,809.07 L402.47,805.22 L402.47,812.92Z" fill="#35a862"/>
<path d="M395.38,832.4 L402.47,828.55 L402.47,836.25Z" fill="#35a862"/>
<path d="M395.38,861.4 L402.47,857.55 L402.47,865.25Z" fill="#35a862"/>
<path d="M417.1,797.38 L424.18,793.52 L424.18,801.23Z" fill="#35a862"/>
<path d="M417.1,817.5 L424.18,813.65 L424.18,821.35Z" fill="#35a862"/>
<path d="M417.1,847.7 L424.18,843.85 L424.18,851.55Z" fill="#35a862"/>
<path d="M438.82,779.88 L445.9,776.02 L445.9,783.73Z" fill="#35a862"/>
<path d="M438.82,801.7 L445.9,797.85 L445.9,805.55Z" fill="#35a862"/>
<path d="M438.82,833.1 L445.9,829.25 L445.9,836.95Z" fill="#35a862"/>
<path d="M460.53,766.17 L467.62,762.32 L467.62,770.02Z" fill="#35a862"/>
<path d="M460.53,786.3 L467.62,782.45 L467.62,790.15Z" fill="#35a862"/>
<path d="M460.53,818.5 L467.62,814.65 L467.62,822.35Z" fill="#35a862"/>
<path d="M482.25,748.07 L489.33,744.22 L489.33,751.92Z" fill="#35a862"/>
<path d="M482.25,769.5 L489.33,765.65 L489.33,773.35Z" fill="#35a862"/>
<path d="M482.25,802.4 L489.33,798.55 L489.33,806.25Z" fill="#35a862"/>
<path d="M503.96,735.67 L511.05,731.82 L511.05,739.52Z" fill="#35a862"/>
<path d="M503.96,750.6 L511.05,746.75 L511.05,754.45Z" fill="#35a862"/>
<path d="M503.96,785.3 L511.05,781.45 L511.05,789.15Z" fill="#35a862"/>
<path d="M525.68,717.48 L532.76,713.62 L532.76,721.33Z" fill="#35a862"/>
<path d="M525.68,733.1 L532.76,729.25 L532.76,736.95Z" fill="#35a862"/>
<path d="M525.68,769 L532.76,765.15 L532.76,772.85Z" fill="#35a862"/>
<path d="M547.4,698.27 L554.48,694.42 L554.48,702.12Z" fill="#35a862"/>
<path d="M547.4,711.3 L554.48,707.45 L554.48,715.15Z" fill="#35a862"/>
<path d="M547.4,748 L554.48,744.15 L554.48,751.85Z" fill="#35a862"/>
<path d="M569.11,677.27 L576.2,673.42 L576.2,681.12Z" fill="#35a862"/>
<path d="M569.11,690.8 L576.2,686.95 L576.2,694.65Z" fill="#35a862"/>
<path d="M569.11,728 L576.2,724.15 L576.2,731.85Z" fill="#35a862"/>
<path d="M138.8,1010.7 L139.22,1009.53 L139.8,1008.08 L140.45,1006.63 L141.17,1005.19 L141.93,1003.76 L142.73,1002.34 L143.56,1000.93 L144.43,999.52 L145.32,998.12 L146.24,996.72 L147.18,995.33 L148.14,993.95 L149.13,992.58 L150.13,991.21 L151.15,989.85 L152.19,988.5 L153.24,987.15 L154.31,985.81 L155.4,984.47 L156.5,983.14 L157.61,981.82 L158.73,980.5 L159.87,979.19 L161.02,977.89 L162.19,976.59 L163.36,975.3 L164.55,974.01 L165.75,972.73 L166.96,971.45 L168.17,970.18 L169.4,968.92 L170.64,967.66 L171.89,966.4 L173.15,965.15 L174.42,963.91 L175.69,962.67 L176.98,961.43 L178.27,960.2 L179.58,958.98 L180.89,957.76 L182.21,956.54 L183.53,955.33 L184.87,954.13 L186.21,952.92 L187.56,951.72 L188.92,950.53 L190.29,949.33 L191.66,948.14 L193.04,946.94 L194.43,945.75 L195.82,944.56 L197.22,943.36 L198.63,942.17 L200.04,940.97 L201.46,939.77 L202.89,938.56 L204.33,937.36 L205.77,936.14 L207.21,934.93 L208.66,933.7 L210.12,932.48 L211.59,931.24 L213.06,930 L214.53,928.75 L216.02,927.49 L217.5,926.23 L219,924.95 L220.5,923.66 L222,922.37 L223.51,921.07 L225.03,919.75 L226.55,918.43 L228.07,917.1 L229.6,915.75 L231.14,914.4 L232.68,913.04 L234.23,911.67 L235.78,910.29 L237.34,908.9 L238.9,907.51 L240.46,906.1 L242.04,904.68 L243.61,903.26 L245.19,901.82 L246.78,900.38 L248.37,898.92 L249.96,897.46 L251.56,895.99 L253.17,894.51 L254.78,893.03 L256.39,891.55 L258.01,890.07 L259.63,888.6 L261.25,887.13 L262.89,885.68 L264.52,884.23 L266.16,882.78 L267.8,881.35 L269.45,879.92 L271.1,878.5 L272.76,877.09 L274.42,875.69 L276.08,874.29 L277.75,872.9 L279.42,871.52 L281.1,870.15 L282.78,868.78 L284.46,867.42 L286.15,866.06 L287.84,864.71 L289.54,863.37 L291.24,862.03 L292.94,860.7 L294.65,859.38 L296.36,858.06 L298.07,856.75 L299.79,855.44 L301.51,854.14 L303.24,852.84 L304.97,851.55 L306.7,850.27 L308.43,848.99 L310.17,847.71 L311.92,846.44 L313.66,845.17 L315.42,843.91 L317.17,842.65 L318.93,841.4 L320.69,840.15 L322.45,838.91 L324.22,837.67 L325.99,836.43 L327.76,835.19 L329.54,833.96 L331.32,832.73 L333.11,831.51 L334.89,830.28 L336.69,829.06 L338.48,827.84 L340.28,826.62 L342.08,825.4 L343.88,824.19 L345.69,822.97 L347.5,821.75 L349.31,820.53 L351.13,819.31 L352.95,818.1 L354.77,816.88 L356.59,815.65 L358.42,814.43 L360.26,813.21 L362.09,811.98 L363.93,810.75 L365.77,809.51 L367.61,808.28 L369.46,807.04 L371.31,805.79 L373.16,804.55 L375.02,803.29 L376.88,802.04 L378.74,800.78 L380.6,799.51 L382.47,798.24 L384.34,796.96 L386.21,795.67 L388.09,794.38 L389.97,793.09 L391.85,791.78 L393.73,790.47 L395.62,789.15 L397.51,787.83 L399.4,786.5 L401.3,785.17 L403.19,783.83 L405.09,782.49 L407,781.14 L408.9,779.78 L410.81,778.43 L412.72,777.06 L414.64,775.7 L416.56,774.32 L418.48,772.95 L420.4,771.57 L422.32,770.19 L424.25,768.8 L426.18,767.41 L428.11,766.02 L430.05,764.62 L431.99,763.22 L433.93,761.82 L435.87,760.42 L437.81,759.01 L439.76,757.61 L441.71,756.2 L443.67,754.79 L445.62,753.37 L447.58,751.96 L449.54,750.54 L451.5,749.13 L453.47,747.71 L455.44,746.29 L457.41,744.88 L459.38,743.46 L461.35,742.04 L463.33,740.62 L465.31,739.2 L467.29,737.79 L469.28,736.37 L471.27,734.95 L473.26,733.54 L475.25,732.12 L477.24,730.71 L479.24,729.3 L481.24,727.89 L483.24,726.48 L485.24,725.08 L487.25,723.67 L489.26,722.27 L491.27,720.87 L493.28,719.48 L495.3,718.08 L497.31,716.7 L499.33,715.31 L501.36,713.93 L503.38,712.55 L505.41,711.17 L507.44,709.8 L509.47,708.43 L511.5,707.07 L513.54,705.71 L515.57,704.36 L517.61,703.01 L519.66,701.66 L521.7,700.32 L523.75,698.99 L525.79,697.66 L527.85,696.34 L529.9,695.02 L531.95,693.71 L534.01,692.41 L536.07,691.11 L538.13,689.82 L540.2,688.53 L542.26,687.26 L544.33,685.99 L546.4,684.72 L548.47,683.47 L550.55,682.22 L552.62,680.98 L554.7,679.75 L556.78,678.52 L558.86,677.31 L560.95,676.1 L563.04,674.9 L565.12,673.72 L567.22,672.53 L569.31,671.36 L571.4,670.2 L573.5,669.05" fill="none" stroke="#3a3a3a" stroke-width="1.35"  stroke-linejoin="round" />
<path d="M138.8,1010.7 L139.22,1010.12 L139.8,1009.11 L140.45,1008.09 L141.17,1007.07 L141.93,1006.04 L142.73,1005.01 L143.56,1003.97 L144.43,1002.93 L145.32,1001.88 L146.24,1000.83 L147.18,999.77 L148.14,998.71 L149.13,997.65 L150.13,996.58 L151.15,995.51 L152.19,994.44 L153.24,993.37 L154.31,992.29 L155.4,991.22 L156.5,990.14 L157.61,989.07 L158.73,987.99 L159.87,986.92 L161.02,985.84 L162.19,984.77 L163.36,983.7 L164.55,982.63 L165.75,981.57 L166.96,980.51 L168.17,979.45 L169.4,978.39 L170.64,977.33 L171.89,976.27 L173.15,975.21 L174.42,974.15 L175.69,973.09 L176.98,972.02 L178.27,970.95 L179.58,969.87 L180.89,968.79 L182.21,967.71 L183.53,966.61 L184.87,965.51 L186.21,964.41 L187.56,963.29 L188.92,962.16 L190.29,961.02 L191.66,959.87 L193.04,958.71 L194.43,957.54 L195.82,956.36 L197.22,955.17 L198.63,953.97 L200.04,952.77 L201.46,951.55 L202.89,950.32 L204.33,949.08 L205.77,947.84 L207.21,946.59 L208.66,945.32 L210.12,944.06 L211.59,942.78 L213.06,941.49 L214.53,940.2 L216.02,938.91 L217.5,937.6 L219,936.29 L220.5,934.97 L222,933.65 L223.51,932.32 L225.03,930.98 L226.55,929.64 L228.07,928.3 L229.6,926.95 L231.14,925.6 L232.68,924.24 L234.23,922.87 L235.78,921.51 L237.34,920.14 L238.9,918.76 L240.46,917.39 L242.04,916.01 L243.61,914.62 L245.19,913.24 L246.78,911.85 L248.37,910.46 L249.96,909.07 L251.56,907.68 L253.17,906.29 L254.78,904.89 L256.39,903.5 L258.01,902.1 L259.63,900.7 L261.25,899.31 L262.89,897.91 L264.52,896.51 L266.16,895.12 L267.8,893.72 L269.45,892.33 L271.1,890.94 L272.76,889.55 L274.42,888.16 L276.08,886.77 L277.75,885.39 L279.42,884 L281.1,882.62 L282.78,881.25 L284.46,879.87 L286.15,878.5 L287.84,877.14 L289.54,875.77 L291.24,874.41 L292.94,873.05 L294.65,871.69 L296.36,870.33 L298.07,868.98 L299.79,867.63 L301.51,866.28 L303.24,864.93 L304.97,863.58 L306.7,862.24 L308.43,860.9 L310.17,859.56 L311.92,858.22 L313.66,856.89 L315.42,855.55 L317.17,854.22 L318.93,852.88 L320.69,851.55 L322.45,850.22 L324.22,848.9 L325.99,847.57 L327.76,846.24 L329.54,844.92 L331.32,843.59 L333.11,842.27 L334.89,840.95 L336.69,839.62 L338.48,838.3 L340.28,836.98 L342.08,835.66 L343.88,834.34 L345.69,833.02 L347.5,831.7 L349.31,830.38 L351.13,829.06 L352.95,827.74 L354.77,826.42 L356.59,825.1 L358.42,823.78 L360.26,822.46 L362.09,821.13 L363.93,819.81 L365.77,818.49 L367.61,817.16 L369.46,815.84 L371.31,814.51 L373.16,813.18 L375.02,811.85 L376.88,810.52 L378.74,809.19 L380.6,807.85 L382.47,806.52 L384.34,805.18 L386.21,803.84 L388.09,802.5 L389.97,801.16 L391.85,799.81 L393.73,798.46 L395.62,797.11 L397.51,795.76 L399.4,794.41 L401.3,793.05 L403.19,791.69 L405.09,790.33 L407,788.97 L408.9,787.6 L410.81,786.23 L412.72,784.86 L414.64,783.48 L416.56,782.1 L418.48,780.72 L420.4,779.34 L422.32,777.95 L424.25,776.56 L426.18,775.17 L428.11,773.77 L430.05,772.37 L431.99,770.96 L433.93,769.55 L435.87,768.14 L437.81,766.73 L439.76,765.31 L441.71,763.89 L443.67,762.46 L445.62,761.03 L447.58,759.6 L449.54,758.17 L451.5,756.73 L453.47,755.3 L455.44,753.85 L457.41,752.41 L459.38,750.97 L461.35,749.52 L463.33,748.07 L465.31,746.62 L467.29,745.17 L469.28,743.71 L471.27,742.26 L473.26,740.8 L475.25,739.35 L477.24,737.89 L479.24,736.43 L481.24,734.97 L483.24,733.51 L485.24,732.04 L487.25,730.58 L489.26,729.12 L491.27,727.65 L493.28,726.19 L495.3,724.73 L497.31,723.26 L499.33,721.8 L501.36,720.34 L503.38,718.88 L505.41,717.41 L507.44,715.95 L509.47,714.49 L511.5,713.03 L513.54,711.57 L515.57,710.12 L517.61,708.66 L519.66,707.21 L521.7,705.75 L523.75,704.3 L525.79,702.85 L527.85,701.4 L529.9,699.95 L531.95,698.51 L534.01,697.07 L536.07,695.63 L538.13,694.19 L540.2,692.75 L542.26,691.32 L544.33,689.89 L546.4,688.46 L548.47,687.04 L550.55,685.62 L552.62,684.2 L554.7,682.78 L556.78,681.37 L558.86,679.96 L560.95,678.56 L563.04,677.16 L565.12,675.76 L567.22,674.37 L569.31,672.98 L571.4,671.6 L573.5,670.22" fill="none" stroke="#3a3a3a" stroke-width="1.4" stroke-dasharray="7.4 9" stroke-linejoin="round" />
<path d="M138.8,1011.3 L139.22,1010.8 L139.8,1009.83 L140.45,1008.86 L141.17,1007.88 L141.93,1006.89 L142.73,1005.89 L143.56,1004.89 L144.43,1003.88 L145.32,1002.86 L146.24,1001.84 L147.18,1000.82 L148.14,999.79 L149.13,998.75 L150.13,997.71 L151.15,996.67 L152.19,995.63 L153.24,994.58 L154.31,993.54 L155.4,992.49 L156.5,991.44 L157.61,990.39 L158.73,989.34 L159.87,988.29 L161.02,987.24 L162.19,986.19 L163.36,985.15 L164.55,984.1 L165.75,983.06 L166.96,982.03 L168.17,980.99 L169.4,979.95 L170.64,978.92 L171.89,977.88 L173.15,976.85 L174.42,975.81 L175.69,974.77 L176.98,973.72 L178.27,972.67 L179.58,971.62 L180.89,970.56 L182.21,969.49 L183.53,968.42 L184.87,967.34 L186.21,966.25 L187.56,965.15 L188.92,964.05 L190.29,962.93 L191.66,961.8 L193.04,960.66 L194.43,959.51 L195.82,958.35 L197.22,957.18 L198.63,956 L200.04,954.81 L201.46,953.61 L202.89,952.4 L204.33,951.18 L205.77,949.96 L207.21,948.72 L208.66,947.48 L210.12,946.23 L211.59,944.97 L213.06,943.7 L214.53,942.43 L216.02,941.14 L217.5,939.86 L219,938.56 L220.5,937.26 L222,935.95 L223.51,934.64 L225.03,933.32 L226.55,932 L228.07,930.67 L229.6,929.33 L231.14,927.99 L232.68,926.65 L234.23,925.3 L235.78,923.95 L237.34,922.6 L238.9,921.24 L240.46,919.87 L242.04,918.51 L243.61,917.14 L245.19,915.77 L246.78,914.4 L248.37,913.02 L249.96,911.64 L251.56,910.26 L253.17,908.88 L254.78,907.5 L256.39,906.12 L258.01,904.73 L259.63,903.35 L261.25,901.96 L262.89,900.58 L264.52,899.2 L266.16,897.81 L267.8,896.43 L269.45,895.05 L271.1,893.66 L272.76,892.28 L274.42,890.91 L276.08,889.53 L277.75,888.15 L279.42,886.78 L281.1,885.41 L282.78,884.04 L284.46,882.68 L286.15,881.32 L287.84,879.96 L289.54,878.6 L291.24,877.25 L292.94,875.9 L294.65,874.54 L296.36,873.2 L298.07,871.85 L299.79,870.51 L301.51,869.16 L303.24,867.82 L304.97,866.49 L306.7,865.15 L308.43,863.81 L310.17,862.48 L311.92,861.15 L313.66,859.82 L315.42,858.49 L317.17,857.16 L318.93,855.83 L320.69,854.51 L322.45,853.18 L324.22,851.86 L325.99,850.53 L327.76,849.21 L329.54,847.89 L331.32,846.57 L333.11,845.25 L334.89,843.93 L336.69,842.61 L338.48,841.29 L340.28,839.97 L342.08,838.65 L343.88,837.33 L345.69,836.01 L347.5,834.7 L349.31,833.38 L351.13,832.06 L352.95,830.74 L354.77,829.42 L356.59,828.1 L358.42,826.78 L360.26,825.46 L362.09,824.14 L363.93,822.81 L365.77,821.49 L367.61,820.17 L369.46,818.84 L371.31,817.52 L373.16,816.19 L375.02,814.86 L376.88,813.53 L378.74,812.2 L380.6,810.87 L382.47,809.54 L384.34,808.2 L386.21,806.86 L388.09,805.53 L389.97,804.19 L391.85,802.85 L393.73,801.5 L395.62,800.16 L397.51,798.81 L399.4,797.46 L401.3,796.11 L403.19,794.75 L405.09,793.4 L407,792.04 L408.9,790.68 L410.81,789.31 L412.72,787.95 L414.64,786.58 L416.56,785.2 L418.48,783.83 L420.4,782.45 L422.32,781.07 L424.25,779.69 L426.18,778.3 L428.11,776.91 L430.05,775.52 L431.99,774.12 L433.93,772.72 L435.87,771.32 L437.81,769.91 L439.76,768.5 L441.71,767.09 L443.67,765.67 L445.62,764.25 L447.58,762.83 L449.54,761.41 L451.5,759.98 L453.47,758.56 L455.44,757.13 L457.41,755.69 L459.38,754.26 L461.35,752.82 L463.33,751.39 L465.31,749.95 L467.29,748.51 L469.28,747.07 L471.27,745.62 L473.26,744.18 L475.25,742.74 L477.24,741.29 L479.24,739.84 L481.24,738.4 L483.24,736.95 L485.24,735.5 L487.25,734.05 L489.26,732.61 L491.27,731.16 L493.28,729.71 L495.3,728.26 L497.31,726.81 L499.33,725.37 L501.36,723.92 L503.38,722.47 L505.41,721.03 L507.44,719.58 L509.47,718.14 L511.5,716.7 L513.54,715.26 L515.57,713.82 L517.61,712.38 L519.66,710.94 L521.7,709.51 L523.75,708.07 L525.79,706.64 L527.85,705.21 L529.9,703.78 L531.95,702.36 L534.01,700.94 L536.07,699.52 L538.13,698.1 L540.2,696.68 L542.26,695.27 L544.33,693.86 L546.4,692.46 L548.47,691.06 L550.55,689.66 L552.62,688.26 L554.7,686.87 L556.78,685.48 L558.86,684.09 L560.95,682.71 L563.04,681.34 L565.12,679.96 L567.22,678.6 L569.31,677.23 L571.4,675.87 L573.5,674.52" fill="none" stroke="#3a3a3a" stroke-width="1.4" stroke-dasharray="1.4 1.9" stroke-linejoin="round" />
<path d="M138.8,1010.7 L139.22,1010.25 L139.8,1009.51 L140.45,1008.76 L141.17,1007.99 L141.93,1007.22 L142.73,1006.44 L143.56,1005.65 L144.43,1004.85 L145.32,1004.04 L146.24,1003.23 L147.18,1002.4 L148.14,1001.56 L149.13,1000.72 L150.13,999.87 L151.15,999.01 L152.19,998.14 L153.24,997.26 L154.31,996.38 L155.4,995.49 L156.5,994.59 L157.61,993.68 L158.73,992.76 L159.87,991.84 L161.02,990.91 L162.19,989.97 L163.36,989.03 L164.55,988.07 L165.75,987.12 L166.96,986.15 L168.17,985.18 L169.4,984.2 L170.64,983.21 L171.89,982.22 L173.15,981.22 L174.42,980.22 L175.69,979.2 L176.98,978.19 L178.27,977.16 L179.58,976.14 L180.89,975.1 L182.21,974.06 L183.53,973.01 L184.87,971.96 L186.21,970.91 L187.56,969.85 L188.92,968.78 L190.29,967.71 L191.66,966.63 L193.04,965.55 L194.43,964.46 L195.82,963.37 L197.22,962.28 L198.63,961.18 L200.04,960.08 L201.46,958.97 L202.89,957.86 L204.33,956.74 L205.77,955.62 L207.21,954.5 L208.66,953.37 L210.12,952.24 L211.59,951.1 L213.06,949.96 L214.53,948.82 L216.02,947.67 L217.5,946.51 L219,945.35 L220.5,944.19 L222,943.02 L223.51,941.84 L225.03,940.66 L226.55,939.47 L228.07,938.28 L229.6,937.08 L231.14,935.88 L232.68,934.66 L234.23,933.45 L235.78,932.22 L237.34,930.99 L238.9,929.76 L240.46,928.51 L242.04,927.26 L243.61,926.01 L245.19,924.75 L246.78,923.48 L248.37,922.21 L249.96,920.94 L251.56,919.66 L253.17,918.38 L254.78,917.1 L256.39,915.82 L258.01,914.55 L259.63,913.27 L261.25,911.99 L262.89,910.72 L264.52,909.44 L266.16,908.17 L267.8,906.9 L269.45,905.64 L271.1,904.37 L272.76,903.11 L274.42,901.85 L276.08,900.6 L277.75,899.34 L279.42,898.09 L281.1,896.84 L282.78,895.59 L284.46,894.35 L286.15,893.11 L287.84,891.87 L289.54,890.63 L291.24,889.4 L292.94,888.17 L294.65,886.94 L296.36,885.72 L298.07,884.5 L299.79,883.28 L301.51,882.07 L303.24,880.85 L304.97,879.65 L306.7,878.44 L308.43,877.24 L310.17,876.04 L311.92,874.84 L313.66,873.65 L315.42,872.46 L317.17,871.27 L318.93,870.08 L320.69,868.9 L322.45,867.71 L324.22,866.53 L325.99,865.35 L327.76,864.18 L329.54,863 L331.32,861.82 L333.11,860.65 L334.89,859.48 L336.69,858.31 L338.48,857.13 L340.28,855.96 L342.08,854.79 L343.88,853.63 L345.69,852.46 L347.5,851.29 L349.31,850.12 L351.13,848.95 L352.95,847.78 L354.77,846.62 L356.59,845.45 L358.42,844.28 L360.26,843.11 L362.09,841.94 L363.93,840.76 L365.77,839.59 L367.61,838.42 L369.46,837.24 L371.31,836.07 L373.16,834.89 L375.02,833.71 L376.88,832.53 L378.74,831.35 L380.6,830.16 L382.47,828.98 L384.34,827.79 L386.21,826.6 L388.09,825.41 L389.97,824.21 L391.85,823.01 L393.73,821.81 L395.62,820.61 L397.51,819.4 L399.4,818.19 L401.3,816.98 L403.19,815.76 L405.09,814.54 L407,813.32 L408.9,812.09 L410.81,810.86 L412.72,809.62 L414.64,808.38 L416.56,807.14 L418.48,805.89 L420.4,804.64 L422.32,803.38 L424.25,802.12 L426.18,800.86 L428.11,799.59 L430.05,798.31 L431.99,797.03 L433.93,795.74 L435.87,794.45 L437.81,793.15 L439.76,791.85 L441.71,790.55 L443.67,789.24 L445.62,787.92 L447.58,786.6 L449.54,785.28 L451.5,783.95 L453.47,782.62 L455.44,781.29 L457.41,779.95 L459.38,778.61 L461.35,777.27 L463.33,775.92 L465.31,774.57 L467.29,773.22 L469.28,771.86 L471.27,770.51 L473.26,769.15 L475.25,767.78 L477.24,766.42 L479.24,765.05 L481.24,763.69 L483.24,762.32 L485.24,760.95 L487.25,759.58 L489.26,758.21 L491.27,756.83 L493.28,755.46 L495.3,754.08 L497.31,752.71 L499.33,751.33 L501.36,749.96 L503.38,748.58 L505.41,747.2 L507.44,745.83 L509.47,744.45 L511.5,743.08 L513.54,741.7 L515.57,740.33 L517.61,738.96 L519.66,737.59 L521.7,736.22 L523.75,734.85 L525.79,733.48 L527.85,732.12 L529.9,730.75 L531.95,729.39 L534.01,728.03 L536.07,726.68 L538.13,725.33 L540.2,723.98 L542.26,722.64 L544.33,721.31 L546.4,719.98 L548.47,718.67 L550.55,717.36 L552.62,716.07 L554.7,714.78 L556.78,713.51 L558.86,712.25 L560.95,711.01 L563.04,709.78 L565.12,708.56 L567.22,707.37 L569.31,706.19 L571.4,705.03 L573.5,703.89" fill="none" stroke="#ee3a3c" stroke-width="1.5"  stroke-linejoin="round" />
<path d="M138.8,1011.1 L139.22,1010.65 L139.8,1009.91 L140.45,1009.16 L141.17,1008.39 L141.93,1007.62 L142.73,1006.84 L143.56,1006.05 L144.43,1005.25 L145.32,1004.44 L146.24,1003.63 L147.18,1002.8 L148.14,1001.96 L149.13,1001.12 L150.13,1000.27 L151.15,999.41 L152.19,998.54 L153.24,997.66 L154.31,996.78 L155.4,995.89 L156.5,994.99 L157.61,994.08 L158.73,993.16 L159.87,992.24 L161.02,991.31 L162.19,990.37 L163.36,989.43 L164.55,988.47 L165.75,987.52 L166.96,986.55 L168.17,985.58 L169.4,984.6 L170.64,983.61 L171.89,982.62 L173.15,981.62 L174.42,980.62 L175.69,979.6 L176.98,978.59 L178.27,977.56 L179.58,976.54 L180.89,975.5 L182.21,974.46 L183.53,973.41 L184.87,972.36 L186.21,971.31 L187.56,970.25 L188.92,969.18 L190.29,968.11 L191.66,967.03 L193.04,965.95 L194.43,964.86 L195.82,963.77 L197.22,962.68 L198.63,961.58 L200.04,960.48 L201.46,959.37 L202.89,958.26 L204.33,957.14 L205.77,956.02 L207.21,954.9 L208.66,953.77 L210.12,952.64 L211.59,951.5 L213.06,950.36 L214.53,949.22 L216.02,948.07 L217.5,946.91 L219,945.75 L220.5,944.59 L222,943.42 L223.51,942.24 L225.03,941.06 L226.55,939.87 L228.07,938.68 L229.6,937.48 L231.14,936.28 L232.68,935.06 L234.23,933.85 L235.78,932.62 L237.34,931.39 L238.9,930.16 L240.46,928.91 L242.04,927.66 L243.61,926.41 L245.19,925.15 L246.78,923.88 L248.37,922.61 L249.96,921.34 L251.56,920.06 L253.17,918.78 L254.78,917.5 L256.39,916.22 L258.01,914.95 L259.63,913.67 L261.25,912.39 L262.89,911.12 L264.52,909.84 L266.16,908.57 L267.8,907.3 L269.45,906.04 L271.1,904.77 L272.76,903.51 L274.42,902.25 L276.08,901 L277.75,899.74 L279.42,898.49 L281.1,897.24 L282.78,895.99 L284.46,894.75 L286.15,893.51 L287.84,892.27 L289.54,891.03 L291.24,889.8 L292.94,888.57 L294.65,887.34 L296.36,886.12 L298.07,884.9 L299.79,883.68 L301.51,882.47 L303.24,881.25 L304.97,880.05 L306.7,878.84 L308.43,877.64 L310.17,876.44 L311.92,875.24 L313.66,874.05 L315.42,872.86 L317.17,871.67 L318.93,870.48 L320.69,869.3 L322.45,868.11 L324.22,866.93 L325.99,865.75 L327.76,864.58 L329.54,863.4 L331.32,862.22 L333.11,861.05 L334.89,859.88 L336.69,858.71 L338.48,857.53 L340.28,856.36 L342.08,855.19 L343.88,854.03 L345.69,852.86 L347.5,851.69 L349.31,850.52 L351.13,849.35 L352.95,848.18 L354.77,847.02 L356.59,845.85 L358.42,844.68 L360.26,843.51 L362.09,842.34 L363.93,841.16 L365.77,839.99 L367.61,838.82 L369.46,837.64 L371.31,836.47 L373.16,835.29 L375.02,834.11 L376.88,832.93 L378.74,831.75 L380.6,830.56 L382.47,829.38 L384.34,828.19 L386.21,827 L388.09,825.81 L389.97,824.61 L391.85,823.41 L393.73,822.21 L395.62,821.01 L397.51,819.8 L399.4,818.59 L401.3,817.38 L403.19,816.16 L405.09,814.94 L407,813.72 L408.9,812.49 L410.81,811.26 L412.72,810.02 L414.64,808.78 L416.56,807.54 L418.48,806.29 L420.4,805.04 L422.32,803.78 L424.25,802.52 L426.18,801.26 L428.11,799.99 L430.05,798.71 L431.99,797.43 L433.93,796.14 L435.87,794.85 L437.81,793.55 L439.76,792.25 L441.71,790.95 L443.67,789.64 L445.62,788.32 L447.58,787 L449.54,785.68 L451.5,784.35 L453.47,783.02 L455.44,781.69 L457.41,780.35 L459.38,779.01 L461.35,777.67 L463.33,776.32 L465.31,774.97 L467.29,773.62 L469.28,772.26 L471.27,770.91 L473.26,769.55 L475.25,768.18 L477.24,766.82 L479.24,765.45 L481.24,764.09 L483.24,762.72 L485.24,761.35 L487.25,759.98 L489.26,758.61 L491.27,757.23 L493.28,755.86 L495.3,754.48 L497.31,753.11 L499.33,751.73 L501.36,750.36 L503.38,748.98 L505.41,747.6 L507.44,746.23 L509.47,744.85 L511.5,743.48 L513.54,742.1 L515.57,740.73 L517.61,739.36 L519.66,737.99 L521.7,736.62 L523.75,735.25 L525.79,733.88 L527.85,732.52 L529.9,731.15 L531.95,729.79 L534.01,728.43 L536.07,727.08 L538.13,725.73 L540.2,724.38 L542.26,723.04 L544.33,721.71 L546.4,720.38 L548.47,719.07 L550.55,717.76 L552.62,716.47 L554.7,715.18 L556.78,713.91 L558.86,712.65 L560.95,711.41 L563.04,710.18 L565.12,708.96 L567.22,707.77 L569.31,706.59 L571.4,705.43 L573.5,704.29" fill="none" stroke="#ee3a3c" stroke-width="1.4" stroke-dasharray="7.4 9" stroke-linejoin="round" />
<path d="M138.8,1010.7 L139.22,1010.26 L139.8,1009.52 L140.45,1008.78 L141.17,1008.03 L141.93,1007.26 L142.73,1006.49 L143.56,1005.71 L144.43,1004.93 L145.32,1004.13 L146.24,1003.32 L147.18,1002.51 L148.14,1001.69 L149.13,1000.86 L150.13,1000.02 L151.15,999.17 L152.19,998.32 L153.24,997.45 L154.31,996.58 L155.4,995.7 L156.5,994.82 L157.61,993.93 L158.73,993.02 L159.87,992.12 L161.02,991.2 L162.19,990.28 L163.36,989.35 L164.55,988.41 L165.75,987.47 L166.96,986.52 L168.17,985.56 L169.4,984.6 L170.64,983.63 L171.89,982.65 L173.15,981.67 L174.42,980.68 L175.69,979.69 L176.98,978.69 L178.27,977.68 L179.58,976.67 L180.89,975.65 L182.21,974.63 L183.53,973.6 L184.87,972.57 L186.21,971.53 L187.56,970.49 L188.92,969.44 L190.29,968.38 L191.66,967.32 L193.04,966.26 L194.43,965.19 L195.82,964.12 L197.22,963.05 L198.63,961.96 L200.04,960.88 L201.46,959.79 L202.89,958.7 L204.33,957.6 L205.77,956.5 L207.21,955.4 L208.66,954.29 L210.12,953.18 L211.59,952.06 L213.06,950.94 L214.53,949.81 L216.02,948.68 L217.5,947.55 L219,946.4 L220.5,945.26 L222,944.11 L223.51,942.95 L225.03,941.79 L226.55,940.62 L228.07,939.45 L229.6,938.27 L231.14,937.09 L232.68,935.9 L234.23,934.7 L235.78,933.5 L237.34,932.29 L238.9,931.07 L240.46,929.85 L242.04,928.62 L243.61,927.38 L245.19,926.14 L246.78,924.89 L248.37,923.65 L249.96,922.39 L251.56,921.14 L253.17,919.88 L254.78,918.62 L256.39,917.37 L258.01,916.11 L259.63,914.85 L261.25,913.6 L262.89,912.34 L264.52,911.09 L266.16,909.84 L267.8,908.6 L269.45,907.35 L271.1,906.11 L272.76,904.87 L274.42,903.63 L276.08,902.4 L277.75,901.16 L279.42,899.93 L281.1,898.71 L282.78,897.48 L284.46,896.25 L286.15,895.01 L287.84,893.77 L289.54,892.53 L291.24,891.3 L292.94,890.07 L294.65,888.84 L296.36,887.62 L298.07,886.4 L299.79,885.18 L301.51,883.97 L303.24,882.75 L304.97,881.55 L306.7,880.34 L308.43,879.14 L310.17,877.94 L311.92,876.74 L313.66,875.55 L315.42,874.36 L317.17,873.17 L318.93,871.98 L320.69,870.8 L322.45,869.61 L324.22,868.43 L325.99,867.25 L327.76,866.08 L329.54,864.9 L331.32,863.72 L333.11,862.55 L334.89,861.38 L336.69,860.21 L338.48,859.03 L340.28,857.86 L342.08,856.69 L343.88,855.53 L345.69,854.36 L347.5,853.19 L349.31,852.02 L351.13,850.85 L352.95,849.68 L354.77,848.52 L356.59,847.35 L358.42,846.18 L360.26,845.01 L362.09,843.84 L363.93,842.66 L365.77,841.49 L367.61,840.32 L369.46,839.14 L371.31,837.97 L373.16,836.79 L375.02,835.61 L376.88,834.43 L378.74,833.25 L380.6,832.06 L382.47,830.88 L384.34,829.69 L386.21,828.5 L388.09,827.31 L389.97,826.11 L391.85,824.91 L393.73,823.71 L395.62,822.51 L397.51,821.3 L399.4,820.09 L401.3,818.88 L403.19,817.66 L405.09,816.44 L407,815.22 L408.9,813.99 L410.81,812.76 L412.72,811.52 L414.64,810.28 L416.56,809.04 L418.48,807.79 L420.4,806.54 L422.32,805.28 L424.25,804.02 L426.18,802.76 L428.11,801.49 L430.05,800.21 L431.99,798.93 L433.93,797.64 L435.87,796.35 L437.81,795.05 L439.76,793.75 L441.71,792.45 L443.67,791.14 L445.62,789.82 L447.58,788.5 L449.54,787.18 L451.5,785.85 L453.47,784.52 L455.44,783.19 L457.41,781.85 L459.38,780.51 L461.35,779.17 L463.33,777.82 L465.31,776.47 L467.29,775.12 L469.28,773.76 L471.27,772.41 L473.26,771.05 L475.25,769.68 L477.24,768.32 L479.24,766.95 L481.24,765.59 L483.24,764.22 L485.24,762.85 L487.25,761.48 L489.26,760.11 L491.27,758.73 L493.28,757.36 L495.3,755.98 L497.31,754.61 L499.33,753.23 L501.36,751.86 L503.38,750.48 L505.41,749.1 L507.44,747.73 L509.47,746.35 L511.5,744.98 L513.54,743.6 L515.57,742.23 L517.61,740.86 L519.66,739.49 L521.7,738.12 L523.75,736.75 L525.79,735.38 L527.85,734.02 L529.9,732.65 L531.95,731.29 L534.01,729.93 L536.07,728.58 L538.13,727.23 L540.2,725.88 L542.26,724.54 L544.33,723.21 L546.4,721.88 L548.47,720.57 L550.55,719.26 L552.62,717.97 L554.7,716.68 L556.78,715.41 L558.86,714.15 L560.95,712.91 L563.04,711.68 L565.12,710.46 L567.22,709.27 L569.31,708.09 L571.4,706.93 L573.5,705.79" fill="none" stroke="#ee3a3c" stroke-width="1.4" stroke-dasharray="1.4 1.9" stroke-linejoin="round" />
<path d="M138.8,1010.7 L139.22,1010.34 L139.8,1009.65 L140.45,1008.95 L141.17,1008.24 L141.93,1007.52 L142.73,1006.79 L143.56,1006.06 L144.43,1005.32 L145.32,1004.56 L146.24,1003.81 L147.18,1003.04 L148.14,1002.26 L149.13,1001.48 L150.13,1000.69 L151.15,999.9 L152.19,999.1 L153.24,998.29 L154.31,997.47 L155.4,996.64 L156.5,995.81 L157.61,994.98 L158.73,994.14 L159.87,993.29 L161.02,992.43 L162.19,991.57 L163.36,990.7 L164.55,989.83 L165.75,988.95 L166.96,988.07 L168.17,987.18 L169.4,986.29 L170.64,985.39 L171.89,984.49 L173.15,983.58 L174.42,982.67 L175.69,981.75 L176.98,980.83 L178.27,979.91 L179.58,978.98 L180.89,978.04 L182.21,977.1 L183.53,976.16 L184.87,975.21 L186.21,974.26 L187.56,973.3 L188.92,972.34 L190.29,971.38 L191.66,970.41 L193.04,969.43 L194.43,968.46 L195.82,967.47 L197.22,966.49 L198.63,965.5 L200.04,964.5 L201.46,963.5 L202.89,962.5 L204.33,961.49 L205.77,960.48 L207.21,959.46 L208.66,958.44 L210.12,957.42 L211.59,956.39 L213.06,955.36 L214.53,954.32 L216.02,953.28 L217.5,952.24 L219,951.2 L220.5,950.15 L222,949.1 L223.51,948.05 L225.03,946.99 L226.55,945.93 L228.07,944.87 L229.6,943.81 L231.14,942.74 L232.68,941.67 L234.23,940.6 L235.78,939.53 L237.34,938.46 L238.9,937.38 L240.46,936.3 L242.04,935.22 L243.61,934.14 L245.19,933.06 L246.78,931.98 L248.37,930.89 L249.96,929.81 L251.56,928.72 L253.17,927.64 L254.78,926.55 L256.39,925.46 L258.01,924.37 L259.63,923.28 L261.25,922.19 L262.89,921.1 L264.52,920.01 L266.16,918.93 L267.8,917.84 L269.45,916.75 L271.1,915.66 L272.76,914.57 L274.42,913.48 L276.08,912.4 L277.75,911.31 L279.42,910.23 L281.1,909.14 L282.78,908.06 L284.46,906.98 L286.15,905.9 L287.84,904.82 L289.54,903.75 L291.24,902.67 L292.94,901.6 L294.65,900.53 L296.36,899.46 L298.07,898.39 L299.79,897.33 L301.51,896.27 L303.24,895.21 L304.97,894.15 L306.7,893.09 L308.43,892.04 L310.17,890.99 L311.92,889.94 L313.66,888.89 L315.42,887.85 L317.17,886.81 L318.93,885.77 L320.69,884.73 L322.45,883.69 L324.22,882.65 L325.99,881.61 L327.76,880.58 L329.54,879.55 L331.32,878.51 L333.11,877.48 L334.89,876.45 L336.69,875.42 L338.48,874.39 L340.28,873.36 L342.08,872.33 L343.88,871.31 L345.69,870.28 L347.5,869.25 L349.31,868.23 L351.13,867.2 L352.95,866.17 L354.77,865.14 L356.59,864.12 L358.42,863.09 L360.26,862.06 L362.09,861.03 L363.93,860 L365.77,858.97 L367.61,857.94 L369.46,856.91 L371.31,855.88 L373.16,854.84 L375.02,853.81 L376.88,852.77 L378.74,851.74 L380.6,850.7 L382.47,849.66 L384.34,848.62 L386.21,847.57 L388.09,846.53 L389.97,845.48 L391.85,844.43 L393.73,843.38 L395.62,842.33 L397.51,841.27 L399.4,840.22 L401.3,839.16 L403.19,838.1 L405.09,837.03 L407,835.96 L408.9,834.89 L410.81,833.82 L412.72,832.74 L414.64,831.67 L416.56,830.58 L418.48,829.5 L420.4,828.41 L422.32,827.32 L424.25,826.22 L426.18,825.13 L428.11,824.02 L430.05,822.92 L431.99,821.81 L433.93,820.69 L435.87,819.58 L437.81,818.46 L439.76,817.33 L441.71,816.2 L443.67,815.07 L445.62,813.94 L447.58,812.8 L449.54,811.66 L451.5,810.52 L453.47,809.37 L455.44,808.22 L457.41,807.07 L459.38,805.92 L461.35,804.77 L463.33,803.61 L465.31,802.45 L467.29,801.29 L469.28,800.13 L471.27,798.96 L473.26,797.8 L475.25,796.63 L477.24,795.46 L479.24,794.29 L481.24,793.12 L483.24,791.95 L485.24,790.78 L487.25,789.6 L489.26,788.43 L491.27,787.26 L493.28,786.08 L495.3,784.91 L497.31,783.73 L499.33,782.56 L501.36,781.38 L503.38,780.21 L505.41,779.04 L507.44,777.86 L509.47,776.69 L511.5,775.52 L513.54,774.35 L515.57,773.18 L517.61,772.01 L519.66,770.84 L521.7,769.67 L523.75,768.51 L525.79,767.34 L527.85,766.18 L529.9,765.02 L531.95,763.86 L534.01,762.71 L536.07,761.55 L538.13,760.4 L540.2,759.25 L542.26,758.1 L544.33,756.96 L546.4,755.82 L548.47,754.68 L550.55,753.54 L552.62,752.41 L554.7,751.28 L556.78,750.15 L558.86,749.03 L560.95,747.91 L563.04,746.79 L565.12,745.68 L567.22,744.57 L569.31,743.46 L571.4,742.36 L573.5,741.27" fill="none" stroke="#1f6fe0" stroke-width="1.55"  stroke-linejoin="round" />
<path d="M138.8,1011.2 L139.22,1010.84 L139.8,1010.15 L140.45,1009.45 L141.17,1008.74 L141.93,1008.02 L142.73,1007.29 L143.56,1006.56 L144.43,1005.82 L145.32,1005.06 L146.24,1004.31 L147.18,1003.54 L148.14,1002.76 L149.13,1001.98 L150.13,1001.19 L151.15,1000.4 L152.19,999.6 L153.24,998.79 L154.31,997.97 L155.4,997.14 L156.5,996.31 L157.61,995.48 L158.73,994.64 L159.87,993.79 L161.02,992.93 L162.19,992.07 L163.36,991.2 L164.55,990.33 L165.75,989.45 L166.96,988.57 L168.17,987.68 L169.4,986.79 L170.64,985.89 L171.89,984.99 L173.15,984.08 L174.42,983.17 L175.69,982.25 L176.98,981.33 L178.27,980.41 L179.58,979.48 L180.89,978.54 L182.21,977.6 L183.53,976.66 L184.87,975.71 L186.21,974.76 L187.56,973.8 L188.92,972.84 L190.29,971.88 L191.66,970.91 L193.04,969.93 L194.43,968.96 L195.82,967.97 L197.22,966.99 L198.63,966 L200.04,965 L201.46,964 L202.89,963 L204.33,961.99 L205.77,960.98 L207.21,959.96 L208.66,958.94 L210.12,957.92 L211.59,956.89 L213.06,955.86 L214.53,954.82 L216.02,953.78 L217.5,952.74 L219,951.7 L220.5,950.65 L222,949.6 L223.51,948.55 L225.03,947.49 L226.55,946.43 L228.07,945.37 L229.6,944.31 L231.14,943.24 L232.68,942.17 L234.23,941.1 L235.78,940.03 L237.34,938.96 L238.9,937.88 L240.46,936.8 L242.04,935.72 L243.61,934.64 L245.19,933.56 L246.78,932.48 L248.37,931.39 L249.96,930.31 L251.56,929.22 L253.17,928.14 L254.78,927.05 L256.39,925.96 L258.01,924.87 L259.63,923.78 L261.25,922.69 L262.89,921.6 L264.52,920.51 L266.16,919.43 L267.8,918.34 L269.45,917.25 L271.1,916.16 L272.76,915.07 L274.42,913.98 L276.08,912.9 L277.75,911.81 L279.42,910.73 L281.1,909.64 L282.78,908.56 L284.46,907.48 L286.15,906.4 L287.84,905.32 L289.54,904.25 L291.24,903.17 L292.94,902.1 L294.65,901.03 L296.36,899.96 L298.07,898.89 L299.79,897.83 L301.51,896.77 L303.24,895.71 L304.97,894.65 L306.7,893.59 L308.43,892.54 L310.17,891.49 L311.92,890.44 L313.66,889.39 L315.42,888.35 L317.17,887.31 L318.93,886.27 L320.69,885.23 L322.45,884.19 L324.22,883.15 L325.99,882.11 L327.76,881.08 L329.54,880.05 L331.32,879.01 L333.11,877.98 L334.89,876.95 L336.69,875.92 L338.48,874.89 L340.28,873.86 L342.08,872.83 L343.88,871.81 L345.69,870.78 L347.5,869.75 L349.31,868.73 L351.13,867.7 L352.95,866.67 L354.77,865.64 L356.59,864.62 L358.42,863.59 L360.26,862.56 L362.09,861.53 L363.93,860.5 L365.77,859.47 L367.61,858.44 L369.46,857.41 L371.31,856.38 L373.16,855.34 L375.02,854.31 L376.88,853.27 L378.74,852.24 L380.6,851.2 L382.47,850.16 L384.34,849.12 L386.21,848.07 L388.09,847.03 L389.97,845.98 L391.85,844.93 L393.73,843.88 L395.62,842.83 L397.51,841.77 L399.4,840.72 L401.3,839.66 L403.19,838.6 L405.09,837.53 L407,836.46 L408.9,835.39 L410.81,834.32 L412.72,833.24 L414.64,832.17 L416.56,831.08 L418.48,830 L420.4,828.91 L422.32,827.82 L424.25,826.72 L426.18,825.63 L428.11,824.52 L430.05,823.42 L431.99,822.31 L433.93,821.19 L435.87,820.08 L437.81,818.96 L439.76,817.83 L441.71,816.7 L443.67,815.57 L445.62,814.44 L447.58,813.3 L449.54,812.16 L451.5,811.02 L453.47,809.87 L455.44,808.72 L457.41,807.57 L459.38,806.42 L461.35,805.27 L463.33,804.11 L465.31,802.95 L467.29,801.79 L469.28,800.63 L471.27,799.46 L473.26,798.3 L475.25,797.13 L477.24,795.96 L479.24,794.79 L481.24,793.62 L483.24,792.45 L485.24,791.28 L487.25,790.1 L489.26,788.93 L491.27,787.76 L493.28,786.58 L495.3,785.41 L497.31,784.23 L499.33,783.06 L501.36,781.88 L503.38,780.71 L505.41,779.54 L507.44,778.36 L509.47,777.19 L511.5,776.02 L513.54,774.85 L515.57,773.68 L517.61,772.51 L519.66,771.34 L521.7,770.17 L523.75,769.01 L525.79,767.84 L527.85,766.68 L529.9,765.52 L531.95,764.36 L534.01,763.21 L536.07,762.05 L538.13,760.9 L540.2,759.75 L542.26,758.6 L544.33,757.46 L546.4,756.32 L548.47,755.18 L550.55,754.04 L552.62,752.91 L554.7,751.78 L556.78,750.65 L558.86,749.53 L560.95,748.41 L563.04,747.29 L565.12,746.18 L567.22,745.07 L569.31,743.96 L571.4,742.86 L573.5,741.77" fill="none" stroke="#1f6fe0" stroke-width="1.4" stroke-dasharray="7.4 9" stroke-linejoin="round" />
<path d="M138.8,1011.6 L139.22,1011.24 L139.8,1010.55 L140.45,1009.85 L141.17,1009.14 L141.93,1008.42 L142.73,1007.69 L143.56,1006.96 L144.43,1006.22 L145.32,1005.46 L146.24,1004.71 L147.18,1003.94 L148.14,1003.16 L149.13,1002.38 L150.13,1001.59 L151.15,1000.8 L152.19,1000 L153.24,999.19 L154.31,998.37 L155.4,997.54 L156.5,996.71 L157.61,995.88 L158.73,995.04 L159.87,994.19 L161.02,993.33 L162.19,992.47 L163.36,991.6 L164.55,990.73 L165.75,989.85 L166.96,988.97 L168.17,988.08 L169.4,987.19 L170.64,986.29 L171.89,985.39 L173.15,984.48 L174.42,983.57 L175.69,982.65 L176.98,981.73 L178.27,980.81 L179.58,979.88 L180.89,978.94 L182.21,978 L183.53,977.06 L184.87,976.11 L186.21,975.16 L187.56,974.2 L188.92,973.24 L190.29,972.28 L191.66,971.31 L193.04,970.33 L194.43,969.36 L195.82,968.37 L197.22,967.39 L198.63,966.4 L200.04,965.4 L201.46,964.4 L202.89,963.4 L204.33,962.39 L205.77,961.38 L207.21,960.36 L208.66,959.34 L210.12,958.32 L211.59,957.29 L213.06,956.26 L214.53,955.22 L216.02,954.18 L217.5,953.14 L219,952.1 L220.5,951.05 L222,950 L223.51,948.95 L225.03,947.89 L226.55,946.83 L228.07,945.77 L229.6,944.71 L231.14,943.64 L232.68,942.57 L234.23,941.5 L235.78,940.43 L237.34,939.36 L238.9,938.28 L240.46,937.2 L242.04,936.12 L243.61,935.04 L245.19,933.96 L246.78,932.88 L248.37,931.79 L249.96,930.71 L251.56,929.62 L253.17,928.54 L254.78,927.45 L256.39,926.36 L258.01,925.27 L259.63,924.18 L261.25,923.09 L262.89,922 L264.52,920.91 L266.16,919.83 L267.8,918.74 L269.45,917.65 L271.1,916.56 L272.76,915.47 L274.42,914.38 L276.08,913.3 L277.75,912.21 L279.42,911.13 L281.1,910.04 L282.78,908.96 L284.46,907.88 L286.15,906.8 L287.84,905.72 L289.54,904.65 L291.24,903.57 L292.94,902.5 L294.65,901.43 L296.36,900.36 L298.07,899.29 L299.79,898.23 L301.51,897.17 L303.24,896.11 L304.97,895.05 L306.7,893.99 L308.43,892.94 L310.17,891.89 L311.92,890.84 L313.66,889.79 L315.42,888.75 L317.17,887.71 L318.93,886.67 L320.69,885.63 L322.45,884.59 L324.22,883.55 L325.99,882.51 L327.76,881.48 L329.54,880.45 L331.32,879.41 L333.11,878.38 L334.89,877.35 L336.69,876.32 L338.48,875.29 L340.28,874.26 L342.08,873.23 L343.88,872.21 L345.69,871.18 L347.5,870.15 L349.31,869.13 L351.13,868.1 L352.95,867.07 L354.77,866.04 L356.59,865.02 L358.42,863.99 L360.26,862.96 L362.09,861.93 L363.93,860.9 L365.77,859.87 L367.61,858.84 L369.46,857.81 L371.31,856.78 L373.16,855.74 L375.02,854.71 L376.88,853.67 L378.74,852.64 L380.6,851.6 L382.47,850.56 L384.34,849.52 L386.21,848.47 L388.09,847.43 L389.97,846.38 L391.85,845.33 L393.73,844.28 L395.62,843.23 L397.51,842.17 L399.4,841.12 L401.3,840.06 L403.19,839 L405.09,837.93 L407,836.86 L408.9,835.79 L410.81,834.72 L412.72,833.64 L414.64,832.57 L416.56,831.48 L418.48,830.4 L420.4,829.31 L422.32,828.22 L424.25,827.12 L426.18,826.03 L428.11,824.92 L430.05,823.82 L431.99,822.71 L433.93,821.59 L435.87,820.48 L437.81,819.36 L439.76,818.23 L441.71,817.1 L443.67,815.97 L445.62,814.84 L447.58,813.7 L449.54,812.56 L451.5,811.42 L453.47,810.27 L455.44,809.12 L457.41,807.97 L459.38,806.82 L461.35,805.67 L463.33,804.51 L465.31,803.35 L467.29,802.19 L469.28,801.03 L471.27,799.86 L473.26,798.7 L475.25,797.53 L477.24,796.36 L479.24,795.19 L481.24,794.02 L483.24,792.85 L485.24,791.68 L487.25,790.5 L489.26,789.33 L491.27,788.16 L493.28,786.98 L495.3,785.81 L497.31,784.63 L499.33,783.46 L501.36,782.28 L503.38,781.11 L505.41,779.94 L507.44,778.76 L509.47,777.59 L511.5,776.42 L513.54,775.25 L515.57,774.08 L517.61,772.91 L519.66,771.74 L521.7,770.57 L523.75,769.41 L525.79,768.24 L527.85,767.08 L529.9,765.92 L531.95,764.76 L534.01,763.61 L536.07,762.45 L538.13,761.3 L540.2,760.15 L542.26,759 L544.33,757.86 L546.4,756.72 L548.47,755.58 L550.55,754.44 L552.62,753.31 L554.7,752.18 L556.78,751.05 L558.86,749.93 L560.95,748.81 L563.04,747.69 L565.12,746.58 L567.22,745.47 L569.31,744.36 L571.4,743.26 L573.5,742.17" fill="none" stroke="#1f6fe0" stroke-width="1.4" stroke-dasharray="1.4 1.9" stroke-linejoin="round" />
<path d="M138.8,1010.7 L139.22,1010.2 L139.8,1009.23 L140.45,1008.26 L141.17,1007.28 L141.93,1006.29 L142.73,1005.29 L143.56,1004.29 L144.43,1003.28 L145.32,1002.26 L146.24,1001.24 L147.18,1000.22 L148.14,999.19 L149.13,998.15 L150.13,997.11 L151.15,996.07 L152.19,995.03 L153.24,993.98 L154.31,992.94 L155.4,991.89 L156.5,990.84 L157.61,989.79 L158.73,988.74 L159.87,987.69 L161.02,986.64 L162.19,985.59 L163.36,984.55 L164.55,983.5 L165.75,982.46 L166.96,981.43 L168.17,980.39 L169.4,979.35 L170.64,978.32 L171.89,977.28 L173.15,976.25 L174.42,975.21 L175.69,974.17 L176.98,973.12 L178.27,972.07 L179.58,971.02 L180.89,969.96 L182.21,968.89 L183.53,967.82 L184.87,966.74 L186.21,965.65 L187.56,964.55 L188.92,963.45 L190.29,962.33 L191.66,961.2 L193.04,960.06 L194.43,958.91 L195.82,957.75 L197.22,956.58 L198.63,955.4 L200.04,954.21 L201.46,953.01 L202.89,951.8 L204.33,950.58 L205.77,949.36 L207.21,948.12 L208.66,946.88 L210.12,945.63 L211.59,944.37 L213.06,943.1 L214.53,941.83 L216.02,940.54 L217.5,939.26 L219,937.96 L220.5,936.66 L222,935.35 L223.51,934.04 L225.03,932.72 L226.55,931.4 L228.07,930.07 L229.6,928.73 L231.14,927.39 L232.68,926.05 L234.23,924.7 L235.78,923.35 L237.34,922 L238.9,920.64 L240.46,919.27 L242.04,917.91 L243.61,916.54 L245.19,915.17 L246.78,913.8 L248.37,912.42 L249.96,911.04 L251.56,909.66 L253.17,908.28 L254.78,906.9 L256.39,905.52 L258.01,904.13 L259.63,902.75 L261.25,901.36 L262.89,899.98 L264.52,898.6 L266.16,897.21 L267.8,895.83 L269.45,894.45 L271.1,893.06 L272.76,891.68 L274.42,890.31 L276.08,888.93 L277.75,887.55 L279.42,886.18 L281.1,884.81 L282.78,883.44 L284.46,882.08 L286.15,880.72 L287.84,879.36 L289.54,878 L291.24,876.65 L292.94,875.3 L294.65,873.94 L296.36,872.6 L298.07,871.25 L299.79,869.91 L301.51,868.56 L303.24,867.22 L304.97,865.89 L306.7,864.55 L308.43,863.21 L310.17,861.88 L311.92,860.55 L313.66,859.22 L315.42,857.89 L317.17,856.56 L318.93,855.23 L320.69,853.91 L322.45,852.58 L324.22,851.26 L325.99,849.93 L327.76,848.61 L329.54,847.29 L331.32,845.97 L333.11,844.65 L334.89,843.33 L336.69,842.01 L338.48,840.69 L340.28,839.37 L342.08,838.05 L343.88,836.73 L345.69,835.41 L347.5,834.1 L349.31,832.78 L351.13,831.46 L352.95,830.14 L354.77,828.82 L356.59,827.5 L358.42,826.18 L360.26,824.86 L362.09,823.54 L363.93,822.21 L365.77,820.89 L367.61,819.57 L369.46,818.24 L371.31,816.92 L373.16,815.59 L375.02,814.26 L376.88,812.93 L378.74,811.6 L380.6,810.27 L382.47,808.94 L384.34,807.6 L386.21,806.26 L388.09,804.93 L389.97,803.59 L391.85,802.25 L393.73,800.9 L395.62,799.56 L397.51,798.21 L399.4,796.86 L401.3,795.51 L403.19,794.15 L405.09,792.8 L407,791.44 L408.9,790.08 L410.81,788.71 L412.72,787.35 L414.64,785.98 L416.56,784.6 L418.48,783.23 L420.4,781.85 L422.32,780.47 L424.25,779.09 L426.18,777.7 L428.11,776.31 L430.05,774.92 L431.99,773.52 L433.93,772.12 L435.87,770.72 L437.81,769.31 L439.76,767.9 L441.71,766.49 L443.67,765.07 L445.62,763.65 L447.58,762.23 L449.54,760.81 L451.5,759.38 L453.47,757.96 L455.44,756.53 L457.41,755.09 L459.38,753.66 L461.35,752.22 L463.33,750.79 L465.31,749.35 L467.29,747.91 L469.28,746.47 L471.27,745.02 L473.26,743.58 L475.25,742.14 L477.24,740.69 L479.24,739.24 L481.24,737.8 L483.24,736.35 L485.24,734.9 L487.25,733.45 L489.26,732.01 L491.27,730.56 L493.28,729.11 L495.3,727.66 L497.31,726.21 L499.33,724.77 L501.36,723.32 L503.38,721.87 L505.41,720.43 L507.44,718.98 L509.47,717.54 L511.5,716.1 L513.54,714.66 L515.57,713.22 L517.61,711.78 L519.66,710.34 L521.7,708.91 L523.75,707.47 L525.79,706.04 L527.85,704.61 L529.9,703.18 L531.95,701.76 L534.01,700.34 L536.07,698.92 L538.13,697.5 L540.2,696.08 L542.26,694.67 L544.33,693.26 L546.4,691.86 L548.47,690.46 L550.55,689.06 L552.62,687.66 L554.7,686.27 L556.78,684.88 L558.86,683.49 L560.95,682.11 L563.04,680.74 L565.12,679.36 L567.22,678 L569.31,676.63 L571.4,675.27 L573.5,673.92" fill="none" stroke="#35a862" stroke-width="1.5"  stroke-linejoin="round" />
<path d="M138.8,1011 L139.22,1010.55 L139.8,1009.81 L140.45,1009.06 L141.17,1008.29 L141.93,1007.52 L142.73,1006.74 L143.56,1005.95 L144.43,1005.15 L145.32,1004.34 L146.24,1003.53 L147.18,1002.7 L148.14,1001.86 L149.13,1001.02 L150.13,1000.17 L151.15,999.31 L152.19,998.44 L153.24,997.56 L154.31,996.68 L155.4,995.79 L156.5,994.89 L157.61,993.98 L158.73,993.06 L159.87,992.14 L161.02,991.21 L162.19,990.27 L163.36,989.33 L164.55,988.37 L165.75,987.42 L166.96,986.45 L168.17,985.48 L169.4,984.5 L170.64,983.51 L171.89,982.52 L173.15,981.52 L174.42,980.52 L175.69,979.5 L176.98,978.49 L178.27,977.46 L179.58,976.44 L180.89,975.4 L182.21,974.36 L183.53,973.31 L184.87,972.26 L186.21,971.21 L187.56,970.15 L188.92,969.08 L190.29,968.01 L191.66,966.93 L193.04,965.85 L194.43,964.76 L195.82,963.67 L197.22,962.58 L198.63,961.48 L200.04,960.38 L201.46,959.27 L202.89,958.16 L204.33,957.04 L205.77,955.92 L207.21,954.8 L208.66,953.67 L210.12,952.54 L211.59,951.4 L213.06,950.26 L214.53,949.12 L216.02,947.97 L217.5,946.81 L219,945.65 L220.5,944.49 L222,943.32 L223.51,942.14 L225.03,940.96 L226.55,939.77 L228.07,938.58 L229.6,937.38 L231.14,936.18 L232.68,934.96 L234.23,933.75 L235.78,932.52 L237.34,931.29 L238.9,930.06 L240.46,928.81 L242.04,927.56 L243.61,926.31 L245.19,925.05 L246.78,923.78 L248.37,922.51 L249.96,921.24 L251.56,919.96 L253.17,918.68 L254.78,917.4 L256.39,916.12 L258.01,914.85 L259.63,913.57 L261.25,912.29 L262.89,911.02 L264.52,909.74 L266.16,908.47 L267.8,907.2 L269.45,905.94 L271.1,904.67 L272.76,903.41 L274.42,902.15 L276.08,900.9 L277.75,899.64 L279.42,898.39 L281.1,897.14 L282.78,895.89 L284.46,894.65 L286.15,893.41 L287.84,892.17 L289.54,890.93 L291.24,889.7 L292.94,888.47 L294.65,887.24 L296.36,886.02 L298.07,884.8 L299.79,883.58 L301.51,882.37 L303.24,881.15 L304.97,879.95 L306.7,878.74 L308.43,877.54 L310.17,876.34 L311.92,875.14 L313.66,873.95 L315.42,872.76 L317.17,871.57 L318.93,870.38 L320.69,869.2 L322.45,868.01 L324.22,866.83 L325.99,865.65 L327.76,864.48 L329.54,863.3 L331.32,862.12 L333.11,860.95 L334.89,859.78 L336.69,858.61 L338.48,857.43 L340.28,856.26 L342.08,855.09 L343.88,853.93 L345.69,852.76 L347.5,851.59 L349.31,850.42 L351.13,849.25 L352.95,848.08 L354.77,846.92 L356.59,845.75 L358.42,844.58 L360.26,843.41 L362.09,842.24 L363.93,841.06 L365.77,839.89 L367.61,838.72 L369.46,837.54 L371.31,836.37 L373.16,835.19 L375.02,834.01 L376.88,832.83 L378.74,831.65 L380.6,830.46 L382.47,829.28 L384.34,828.09 L386.21,826.9 L388.09,825.71 L389.97,824.51 L391.85,823.31 L393.73,822.11 L395.62,820.91 L397.51,819.7 L399.4,818.49 L401.3,817.28 L403.19,816.06 L405.09,814.84 L407,813.62 L408.9,812.39 L410.81,811.16 L412.72,809.92 L414.64,808.68 L416.56,807.44 L418.48,806.19 L420.4,804.94 L422.32,803.68 L424.25,802.42 L426.18,801.16 L428.11,799.89 L430.05,798.61 L431.99,797.33 L433.93,796.04 L435.87,794.75 L437.81,793.45 L439.76,792.15 L441.71,790.85 L443.67,789.54 L445.62,788.22 L447.58,786.9 L449.54,785.58 L451.5,784.25 L453.47,782.92 L455.44,781.59 L457.41,780.25 L459.38,778.91 L461.35,777.57 L463.33,776.22 L465.31,774.87 L467.29,773.52 L469.28,772.16 L471.27,770.81 L473.26,769.45 L475.25,768.08 L477.24,766.72 L479.24,765.35 L481.24,763.99 L483.24,762.62 L485.24,761.25 L487.25,759.88 L489.26,758.51 L491.27,757.13 L493.28,755.76 L495.3,754.38 L497.31,753.01 L499.33,751.63 L501.36,750.26 L503.38,748.88 L505.41,747.5 L507.44,746.13 L509.47,744.75 L511.5,743.38 L513.54,742 L515.57,740.63 L517.61,739.26 L519.66,737.89 L521.7,736.52 L523.75,735.15 L525.79,733.78 L527.85,732.42 L529.9,731.05 L531.95,729.69 L534.01,728.33 L536.07,726.98 L538.13,725.63 L540.2,724.28 L542.26,722.94 L544.33,721.61 L546.4,720.28 L548.47,718.97 L550.55,717.66 L552.62,716.37 L554.7,715.08 L556.78,713.81 L558.86,712.55 L560.95,711.31 L563.04,710.08 L565.12,708.86 L567.22,707.67 L569.31,706.49 L571.4,705.33 L573.5,704.19" fill="none" stroke="#35a862" stroke-width="1.4" stroke-dasharray="7.4 9" stroke-linejoin="round" stroke-dashoffset="9"/>
<path d="M138.8,1010.7 L139.22,1010.33 L139.8,1009.63 L140.45,1008.92 L141.17,1008.2 L141.93,1007.48 L142.73,1006.74 L143.56,1005.99 L144.43,1005.24 L145.32,1004.47 L146.24,1003.7 L147.18,1002.92 L148.14,1002.14 L149.13,1001.34 L150.13,1000.54 L151.15,999.73 L152.19,998.91 L153.24,998.09 L154.31,997.25 L155.4,996.42 L156.5,995.57 L157.61,994.72 L158.73,993.86 L159.87,993 L161.02,992.12 L162.19,991.25 L163.36,990.37 L164.55,989.48 L165.75,988.58 L166.96,987.68 L168.17,986.78 L169.4,985.87 L170.64,984.95 L171.89,984.03 L173.15,983.11 L174.42,982.18 L175.69,981.24 L176.98,980.3 L178.27,979.36 L179.58,978.41 L180.89,977.46 L182.21,976.5 L183.53,975.54 L184.87,974.58 L186.21,973.6 L187.56,972.63 L188.92,971.65 L190.29,970.67 L191.66,969.68 L193.04,968.68 L194.43,967.69 L195.82,966.69 L197.22,965.68 L198.63,964.67 L200.04,963.65 L201.46,962.64 L202.89,961.61 L204.33,960.58 L205.77,959.55 L207.21,958.52 L208.66,957.48 L210.12,956.43 L211.59,955.38 L213.06,954.33 L214.53,953.28 L216.02,952.22 L217.5,951.16 L219,950.09 L220.5,949.02 L222,947.95 L223.51,946.88 L225.03,945.8 L226.55,944.72 L228.07,943.64 L229.6,942.55 L231.14,941.47 L232.68,940.38 L234.23,939.29 L235.78,938.19 L237.34,937.1 L238.9,936 L240.46,934.9 L242.04,933.8 L243.61,932.7 L245.19,931.59 L246.78,930.49 L248.37,929.38 L249.96,928.27 L251.56,927.17 L253.17,926.06 L254.78,924.95 L256.39,923.84 L258.01,922.73 L259.63,921.61 L261.25,920.5 L262.89,919.39 L264.52,918.28 L266.16,917.17 L267.8,916.06 L269.45,914.94 L271.1,913.83 L272.76,912.72 L274.42,911.61 L276.08,910.5 L277.75,909.39 L279.42,908.29 L281.1,907.18 L282.78,906.07 L284.46,904.97 L286.15,903.87 L287.84,902.77 L289.54,901.67 L291.24,900.57 L292.94,899.47 L294.65,898.38 L296.36,897.28 L298.07,896.19 L299.79,895.11 L301.51,894.02 L303.24,892.94 L304.97,891.86 L306.7,890.78 L308.43,889.7 L310.17,888.62 L311.92,887.55 L313.66,886.48 L315.42,885.41 L317.17,884.34 L318.93,883.28 L320.69,882.21 L322.45,881.15 L324.22,880.09 L325.99,879.03 L327.76,877.97 L329.54,876.91 L331.32,875.86 L333.11,874.8 L334.89,873.74 L336.69,872.69 L338.48,871.64 L340.28,870.58 L342.08,869.53 L343.88,868.48 L345.69,867.42 L347.5,866.37 L349.31,865.32 L351.13,864.27 L352.95,863.22 L354.77,862.16 L356.59,861.12 L358.42,860.09 L360.26,859.06 L362.09,858.03 L363.93,857 L365.77,855.97 L367.61,854.94 L369.46,853.91 L371.31,852.88 L373.16,851.84 L375.02,850.81 L376.88,849.77 L378.74,848.74 L380.6,847.7 L382.47,846.66 L384.34,845.62 L386.21,844.57 L388.09,843.53 L389.97,842.48 L391.85,841.43 L393.73,840.38 L395.62,839.33 L397.51,838.27 L399.4,837.22 L401.3,836.16 L403.19,835.1 L405.09,834.03 L407,832.96 L408.9,831.89 L410.81,830.82 L412.72,829.74 L414.64,828.67 L416.56,827.58 L418.48,826.5 L420.4,825.41 L422.32,824.32 L424.25,823.22 L426.18,822.13 L428.11,821.02 L430.05,819.92 L431.99,818.81 L433.93,817.69 L435.87,816.58 L437.81,815.46 L439.76,814.33 L441.71,813.2 L443.67,812.07 L445.62,810.94 L447.58,809.8 L449.54,808.66 L451.5,807.52 L453.47,806.37 L455.44,805.22 L457.41,804.07 L459.38,802.92 L461.35,801.77 L463.33,800.61 L465.31,799.45 L467.29,798.29 L469.28,797.13 L471.27,795.96 L473.26,794.8 L475.25,793.63 L477.24,792.46 L479.24,791.29 L481.24,790.12 L483.24,788.95 L485.24,787.78 L487.25,786.6 L489.26,785.43 L491.27,784.26 L493.28,783.08 L495.3,781.91 L497.31,780.73 L499.33,779.56 L501.36,778.38 L503.38,777.21 L505.41,776.04 L507.44,774.86 L509.47,773.69 L511.5,772.52 L513.54,771.35 L515.57,770.18 L517.61,769.01 L519.66,767.84 L521.7,766.67 L523.75,765.51 L525.79,764.34 L527.85,763.18 L529.9,762.02 L531.95,760.86 L534.01,759.71 L536.07,758.55 L538.13,757.4 L540.2,756.25 L542.26,755.1 L544.33,753.96 L546.4,752.82 L548.47,751.68 L550.55,750.54 L552.62,749.41 L554.7,748.28 L556.78,747.15 L558.86,746.03 L560.95,744.91 L563.04,743.79 L565.12,742.68 L567.22,741.57 L569.31,740.46 L571.4,739.36 L573.5,738.27" fill="none" stroke="#35a862" stroke-width="1.4" stroke-dasharray="1.4 1.9" stroke-linejoin="round" />
<rect x="85" y="591" width="542.3" height="437" fill="none" stroke="#1c1c1c" stroke-width="1.6"/>
<line x1="80.6" y1="1018.5" x2="85" y2="1018.5" stroke="#1c1c1c" stroke-width="1.6" />
<line x1="622.9" y1="1018.5" x2="627.3" y2="1018.5" stroke="#1c1c1c" stroke-width="1.6" />
<line x1="76.2" y1="971" x2="85" y2="971" stroke="#1c1c1c" stroke-width="1.6" />
<line x1="618.5" y1="971" x2="627.3" y2="971" stroke="#1c1c1c" stroke-width="1.6" />
<text x="72.6" y="977.8" font-size="18.5" text-anchor="end" fill="#000" >300</text>
<line x1="80.6" y1="923.5" x2="85" y2="923.5" stroke="#1c1c1c" stroke-width="1.6" />
<line x1="622.9" y1="923.5" x2="627.3" y2="923.5" stroke="#1c1c1c" stroke-width="1.6" />
<line x1="76.2" y1="876" x2="85" y2="876" stroke="#1c1c1c" stroke-width="1.6" />
<line x1="618.5" y1="876" x2="627.3" y2="876" stroke="#1c1c1c" stroke-width="1.6" />
<text x="72.6" y="882.8" font-size="18.5" text-anchor="end" fill="#000" >305</text>
<line x1="80.6" y1="828.5" x2="85" y2="828.5" stroke="#1c1c1c" stroke-width="1.6" />
<line x1="622.9" y1="828.5" x2="627.3" y2="828.5" stroke="#1c1c1c" stroke-width="1.6" />
<line x1="76.2" y1="781" x2="85" y2="781" stroke="#1c1c1c" stroke-width="1.6" />
<line x1="618.5" y1="781" x2="627.3" y2="781" stroke="#1c1c1c" stroke-width="1.6" />
<text x="72.6" y="787.8" font-size="18.5" text-anchor="end" fill="#000" >310</text>
<line x1="80.6" y1="733.5" x2="85" y2="733.5" stroke="#1c1c1c" stroke-width="1.6" />
<line x1="622.9" y1="733.5" x2="627.3" y2="733.5" stroke="#1c1c1c" stroke-width="1.6" />
<line x1="76.2" y1="686" x2="85" y2="686" stroke="#1c1c1c" stroke-width="1.6" />
<line x1="618.5" y1="686" x2="627.3" y2="686" stroke="#1c1c1c" stroke-width="1.6" />
<text x="72.6" y="692.8" font-size="18.5" text-anchor="end" fill="#000" >315</text>
<line x1="80.6" y1="638.5" x2="85" y2="638.5" stroke="#1c1c1c" stroke-width="1.6" />
<line x1="622.9" y1="638.5" x2="627.3" y2="638.5" stroke="#1c1c1c" stroke-width="1.6" />
<line x1="76.2" y1="591" x2="85" y2="591" stroke="#1c1c1c" stroke-width="1.6" />
<text x="72.6" y="597.8" font-size="18.5" text-anchor="end" fill="#000" >320</text>
<line x1="84.61" y1="1028" x2="84.61" y2="1032.2" stroke="#1c1c1c" stroke-width="1.6" />
<line x1="138.9" y1="1028" x2="138.9" y2="1036.3" stroke="#1c1c1c" stroke-width="1.6" />
<line x1="138.9" y1="591" x2="138.9" y2="599.3" stroke="#1c1c1c" stroke-width="1.6" />
<text x="139.3" y="1057.2" font-size="18.5" text-anchor="middle" fill="#000" >0</text>
<line x1="193.19" y1="1028" x2="193.19" y2="1032.2" stroke="#1c1c1c" stroke-width="1.6" />
<line x1="193.19" y1="591" x2="193.19" y2="595.2" stroke="#1c1c1c" stroke-width="1.6" />
<line x1="247.48" y1="1028" x2="247.48" y2="1036.3" stroke="#1c1c1c" stroke-width="1.6" />
<line x1="247.48" y1="591" x2="247.48" y2="599.3" stroke="#1c1c1c" stroke-width="1.6" />
<text x="247.88" y="1057.2" font-size="18.5" text-anchor="middle" fill="#000" >200</text>
<line x1="301.77" y1="1028" x2="301.77" y2="1032.2" stroke="#1c1c1c" stroke-width="1.6" />
<line x1="301.77" y1="591" x2="301.77" y2="595.2" stroke="#1c1c1c" stroke-width="1.6" />
<line x1="356.06" y1="1028" x2="356.06" y2="1036.3" stroke="#1c1c1c" stroke-width="1.6" />
<line x1="356.06" y1="591" x2="356.06" y2="599.3" stroke="#1c1c1c" stroke-width="1.6" />
<text x="356.46" y="1057.2" font-size="18.5" text-anchor="middle" fill="#000" >400</text>
<line x1="410.35" y1="1028" x2="410.35" y2="1032.2" stroke="#1c1c1c" stroke-width="1.6" />
<line x1="410.35" y1="591" x2="410.35" y2="595.2" stroke="#1c1c1c" stroke-width="1.6" />
<line x1="464.64" y1="1028" x2="464.64" y2="1036.3" stroke="#1c1c1c" stroke-width="1.6" />
<line x1="464.64" y1="591" x2="464.64" y2="599.3" stroke="#1c1c1c" stroke-width="1.6" />
<text x="465.04" y="1057.2" font-size="18.5" text-anchor="middle" fill="#000" >600</text>
<line x1="518.93" y1="1028" x2="518.93" y2="1032.2" stroke="#1c1c1c" stroke-width="1.6" />
<line x1="518.93" y1="591" x2="518.93" y2="595.2" stroke="#1c1c1c" stroke-width="1.6" />
<line x1="573.22" y1="1028" x2="573.22" y2="1036.3" stroke="#1c1c1c" stroke-width="1.6" />
<line x1="573.22" y1="591" x2="573.22" y2="599.3" stroke="#1c1c1c" stroke-width="1.6" />
<text x="573.62" y="1057.2" font-size="18.5" text-anchor="middle" fill="#000" >800</text>
<line x1="627.51" y1="1028" x2="627.51" y2="1032.2" stroke="#1c1c1c" stroke-width="1.6" />
<text x="356.3" y="1080" font-size="22.9" text-anchor="middle" fill="#000" >Discharge time (s)</text>
<text transform="translate(33.0,809.8) rotate(-90)" font-size="23.0" text-anchor="middle" fill="#000">Temperature (K)</text>
<text x="651.6" y="1089.3" font-size="31.3" text-anchor="middle" fill="#000" >(b)</text>
<rect x="106.3" y="604" width="190.32" height="101.59" fill="#fff" stroke="#2a2a2a" stroke-width="1"/>
<rect x="106.3" y="717" width="190.32" height="100.13" fill="#fff" stroke="#2a2a2a" stroke-width="1"/>
<text x="107.71" y="620.09" font-size="15.89" text-anchor="start" fill="#000" textLength="131.23" lengthAdjust="spacingAndGlyphs">Experimental results</text>
<text x="107.86" y="734.16" font-size="15.89" text-anchor="start" fill="#000" textLength="111.54" lengthAdjust="spacingAndGlyphs">Simulation results</text>
<rect x="123.77" y="632.42" width="5.27" height="5.27" fill="#4d4d4d"/>
<text x="145.12" y="640.32" font-size="15.89" text-anchor="start" fill="#000" >T1</text>
<rect x="188.02" y="632.42" width="5.27" height="5.27" fill="#4d4d4d"/>
<text x="209.37" y="640.32" font-size="15.89" text-anchor="start" fill="#000" >T2</text>
<rect x="251.69" y="632.42" width="5.27" height="5.27" fill="#4d4d4d"/>
<text x="272.84" y="640.32" font-size="15.89" text-anchor="start" fill="#000" >T3</text>
<path d="M126.4,651.18 L130.01,657.25 L122.8,657.25Z" fill="#ee3a3c"/>
<text x="145.12" y="659.97" font-size="15.89" text-anchor="start" fill="#000" >T4</text>
<path d="M190.65,651.18 L194.26,657.25 L187.05,657.25Z" fill="#ee3a3c"/>
<text x="209.37" y="659.97" font-size="15.89" text-anchor="start" fill="#000" >T5</text>
<path d="M254.32,651.18 L257.93,657.25 L250.72,657.25Z" fill="#ee3a3c"/>
<text x="272.84" y="659.97" font-size="15.89" text-anchor="start" fill="#000" >T6</text>
<path d="M126.4,670.79 L130.5,674.88 L126.4,678.98 L122.31,674.88Z" fill="#1f6fe0"/>
<text x="145.12" y="680.15" font-size="15.89" text-anchor="start" fill="#000" >T7</text>
<path d="M190.65,670.79 L194.75,674.88 L190.65,678.98 L186.56,674.88Z" fill="#1f6fe0"/>
<text x="209.37" y="680.15" font-size="15.89" text-anchor="start" fill="#000" >T8</text>
<path d="M254.32,670.79 L258.42,674.88 L254.32,678.98 L250.23,674.88Z" fill="#1f6fe0"/>
<text x="272.84" y="680.15" font-size="15.89" text-anchor="start" fill="#000" >T9</text>
<path d="M122.4,694.77 L129.3,691.02 L129.3,698.53Z" fill="#35a862"/>
<text x="145.12" y="700.04" font-size="15.89" text-anchor="start" fill="#000" >Ts1</text>
<path d="M186.65,694.77 L193.56,691.02 L193.56,698.53Z" fill="#35a862"/>
<text x="209.37" y="700.04" font-size="15.89" text-anchor="start" fill="#000" >Ts2</text>
<path d="M250.32,694.77 L257.22,691.02 L257.22,698.53Z" fill="#35a862"/>
<text x="272.84" y="700.04" font-size="15.89" text-anchor="start" fill="#000" >Ts3</text>
<line x1="107.86" y1="747.37" x2="142.96" y2="747.37" stroke="#3a3a3a" stroke-width="1.27" />
<text x="143.16" y="752.88" font-size="15.89" text-anchor="start" fill="#000" >T1</text>
<line x1="169.97" y1="747.37" x2="204.87" y2="747.37" stroke="#3a3a3a" stroke-width="1.27" stroke-dasharray="7.41 8.97"/>
<text x="205.07" y="752.88" font-size="15.89" text-anchor="start" fill="#000" >T2</text>
<line x1="231.2" y1="747.37" x2="266.69" y2="747.37" stroke="#3a3a3a" stroke-width="1.27" stroke-dasharray="1.36 1.85"/>
<text x="267.27" y="752.88" font-size="15.89" text-anchor="start" fill="#000" >T3</text>
<line x1="107.86" y1="766.83" x2="142.96" y2="766.83" stroke="#ee3a3c" stroke-width="1.27" />
<text x="143.16" y="772.33" font-size="15.89" text-anchor="start" fill="#000" >T4</text>
<line x1="169.97" y1="766.83" x2="204.87" y2="766.83" stroke="#ee3a3c" stroke-width="1.27" stroke-dasharray="7.41 8.97"/>
<text x="205.07" y="772.33" font-size="15.89" text-anchor="start" fill="#000" >T5</text>
<line x1="231.2" y1="766.83" x2="266.69" y2="766.83" stroke="#ee3a3c" stroke-width="1.27" stroke-dasharray="1.36 1.85"/>
<text x="267.27" y="772.33" font-size="15.89" text-anchor="start" fill="#000" >T6</text>
<line x1="107.86" y1="786.23" x2="142.96" y2="786.23" stroke="#1f6fe0" stroke-width="1.27" />
<text x="143.16" y="791.74" font-size="15.89" text-anchor="start" fill="#000" >T7</text>
<line x1="169.97" y1="786.23" x2="204.87" y2="786.23" stroke="#1f6fe0" stroke-width="1.27" stroke-dasharray="7.41 8.97"/>
<text x="205.07" y="791.74" font-size="15.89" text-anchor="start" fill="#000" >T8</text>
<line x1="231.2" y1="786.23" x2="266.69" y2="786.23" stroke="#1f6fe0" stroke-width="1.27" stroke-dasharray="1.36 1.85"/>
<text x="267.27" y="791.74" font-size="15.89" text-anchor="start" fill="#000" >T9</text>
<line x1="107.86" y1="805.14" x2="142.96" y2="805.14" stroke="#35a862" stroke-width="1.27" />
<text x="143.16" y="810.65" font-size="15.89" text-anchor="start" fill="#000" >Ts1</text>
<line x1="169.97" y1="805.14" x2="204.87" y2="805.14" stroke="#35a862" stroke-width="1.27" stroke-dasharray="7.41 8.97"/>
<text x="205.07" y="810.65" font-size="15.89" text-anchor="start" fill="#000" >Ts2</text>
<line x1="231.2" y1="805.14" x2="266.69" y2="805.14" stroke="#35a862" stroke-width="1.27" stroke-dasharray="1.36 1.85"/>
<text x="267.27" y="810.65" font-size="15.89" text-anchor="start" fill="#000" >Ts3</text>
<polygon points="440.3,878.8 468.81,892.66 467.43,1014.55 440.5,1001.38" fill="#98cbea"/>
<polygon points="468.81,892.66 590.11,851.47 590.11,973.46 467.43,1014.55" fill="#97cbeb"/>
<polygon points="467.04,891.78 470.58,892.07 469.2,1013.96 467.43,1014.55 465.66,1013.57" fill="#a4d3ef"/>
<polygon points="440.3,878.8 560.32,838.79 563.27,838.69 590.11,851.47 468.81,893.05" fill="#93e4fb"/>
<path d="M456.62,876.74 v3.54 a12.09,5.01 0 0 0 24.18,0 v-3.54Z" fill="#8dc7e7"/>
<ellipse cx="468.71" cy="876.74" rx="12.09" ry="5.01" fill="#97e5fb" stroke="#8bd2ee" stroke-width="0.7"/>
<path d="M549.22,845.87 v3.54 a12.09,5.01 0 0 0 24.18,0 v-3.54Z" fill="#8dc7e7"/>
<ellipse cx="561.31" cy="845.87" rx="12.09" ry="5.01" fill="#97e5fb" stroke="#8bd2ee" stroke-width="0.7"/>
<circle cx="452.19" cy="910.55" r="3.54" fill="#f0121c"/>
<circle cx="452.19" cy="949.58" r="3.54" fill="#f0121c"/>
<circle cx="452.19" cy="984.28" r="3.54" fill="#f0121c"/>
<circle cx="491.51" cy="907.41" r="3.54" fill="#f0121c"/>
<circle cx="492.1" cy="944.07" r="3.54" fill="#f0121c"/>
<circle cx="492.99" cy="982.01" r="3.54" fill="#f0121c"/>
<circle cx="531.72" cy="893.54" r="3.54" fill="#f0121c"/>
<circle cx="532.6" cy="930.31" r="3.54" fill="#f0121c"/>
<circle cx="533.78" cy="967.66" r="3.54" fill="#f0121c"/>
<circle cx="570.45" cy="880.08" r="3.54" fill="#f0121c"/>
<circle cx="571.33" cy="917.43" r="3.54" fill="#f0121c"/>
<circle cx="572.51" cy="954.69" r="3.54" fill="#f0121c"/>
<text x="451.41" y="925.2" font-size="12.39" text-anchor="middle" fill="#000" font-weight="bold">Ts1</text>
<text x="451.41" y="963.34" font-size="12.39" text-anchor="middle" fill="#000" font-weight="bold">Ts2</text>
<text x="451.41" y="998.33" font-size="12.39" text-anchor="middle" fill="#000" font-weight="bold">Ts3</text>
<text x="489.25" y="921.76" font-size="12.39" text-anchor="middle" fill="#000" font-weight="bold">T1</text>
<text x="490.14" y="958.42" font-size="12.39" text-anchor="middle" fill="#000" font-weight="bold">T4</text>
<text x="490.73" y="995.78" font-size="12.39" text-anchor="middle" fill="#000" font-weight="bold">T7</text>
<text x="530.24" y="908.19" font-size="12.39" text-anchor="middle" fill="#000" font-weight="bold">T2</text>
<text x="530.24" y="945.25" font-size="12.39" text-anchor="middle" fill="#000" font-weight="bold">T5</text>
<text x="530.83" y="982.01" font-size="12.39" text-anchor="middle" fill="#000" font-weight="bold">T8</text>
<text x="569.07" y="894.43" font-size="12.39" text-anchor="middle" fill="#000" font-weight="bold">T3</text>
<text x="569.56" y="931.78" font-size="12.39" text-anchor="middle" fill="#000" font-weight="bold">T6</text>
<text x="570.45" y="969.63" font-size="12.39" text-anchor="middle" fill="#000" font-weight="bold">T9</text>
</svg></body></html>
